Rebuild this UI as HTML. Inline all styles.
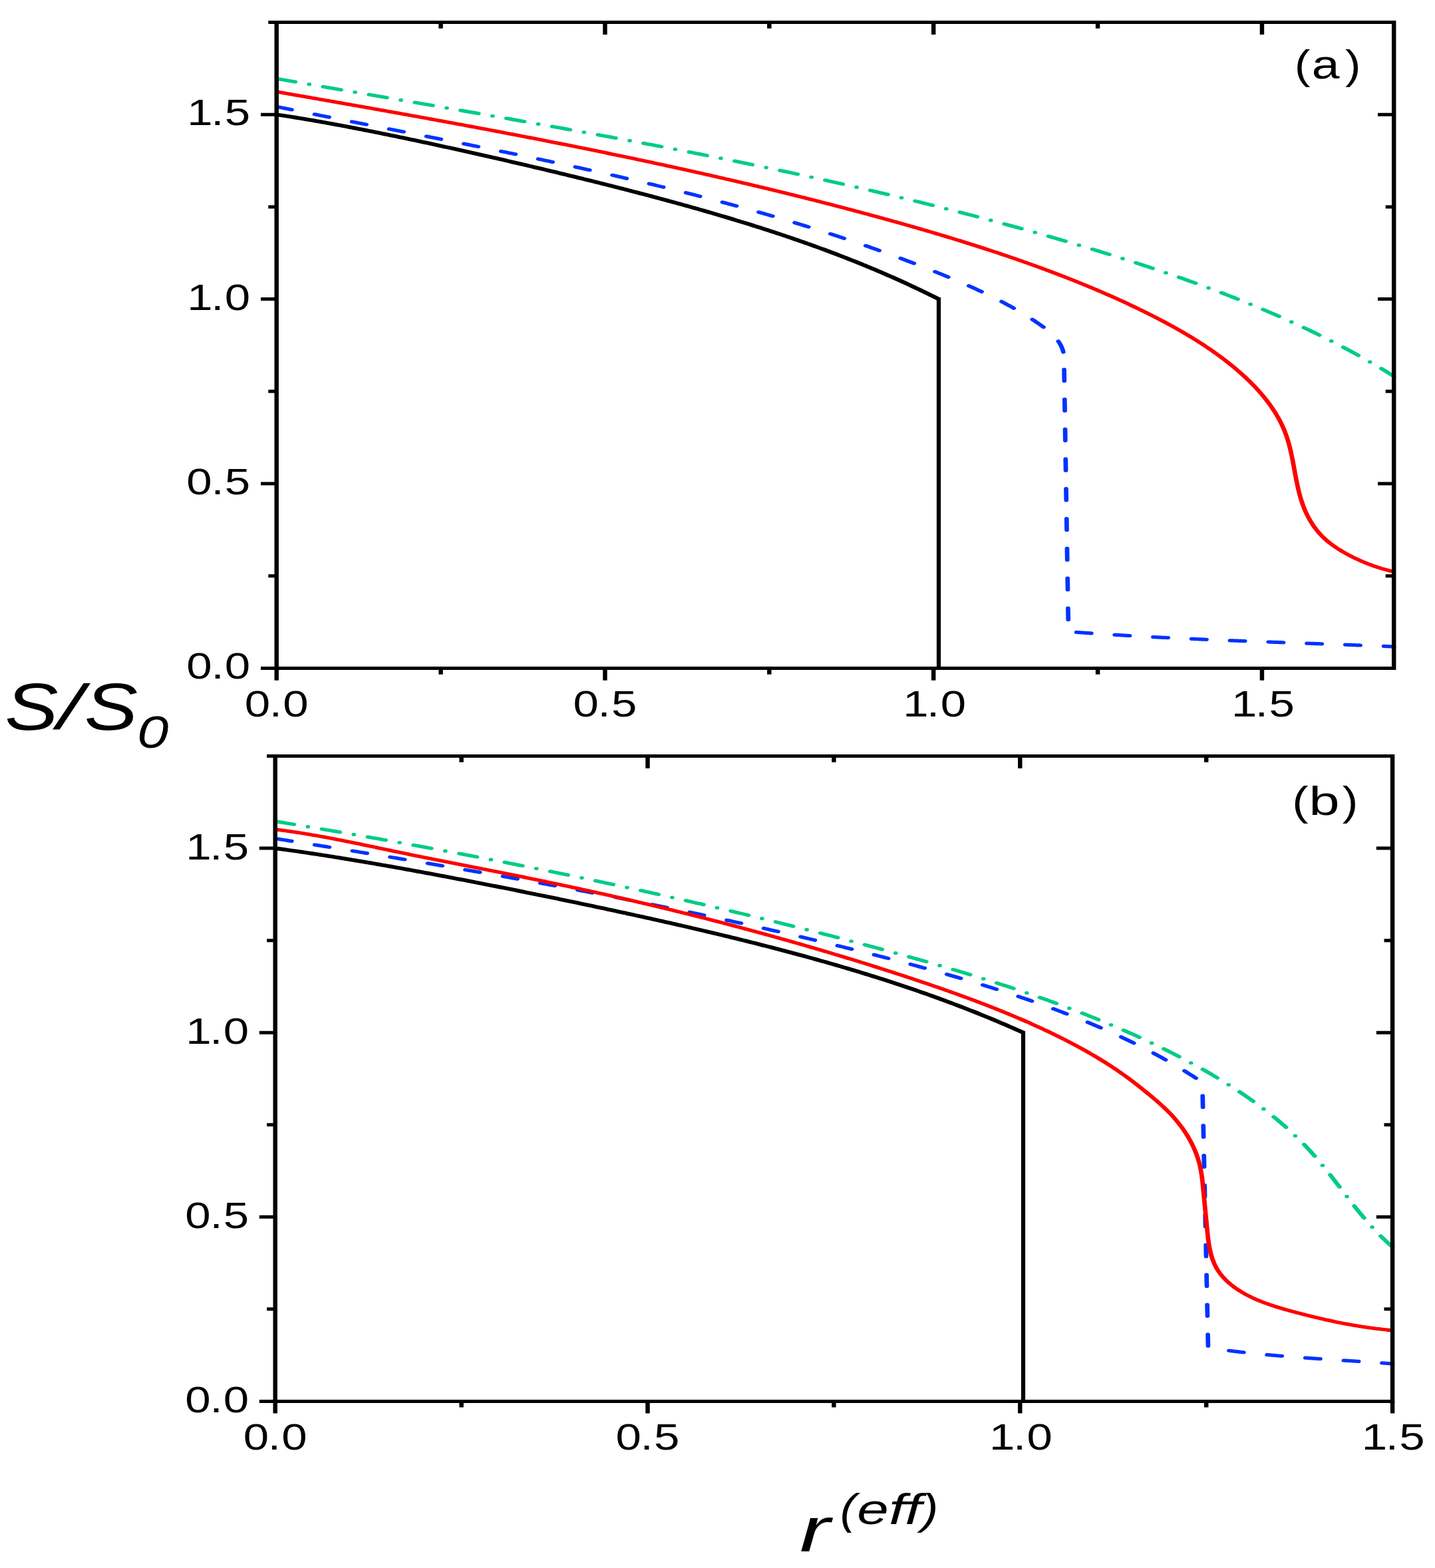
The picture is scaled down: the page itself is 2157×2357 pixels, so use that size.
<!DOCTYPE html><html><head><meta charset="utf-8"><title>S/S0 vs r(eff)</title><style>html,body{margin:0;padding:0;background:#fff;overflow:hidden}svg{display:block}text{font-family:"Liberation Sans",Arial,sans-serif;fill:#000}</style></head><body>
<svg width="2157" height="2357" viewBox="0 0 2157 2357">
<rect width="2157" height="2357" fill="#fff"/>
<g transform="scale(1.29,1)">
<path d="M322.25 172.18L324.83 172.68L327.41 173.19L329.99 173.71L332.57 174.23L335.15 174.75L337.73 175.28L340.31 175.81L342.89 176.35L345.47 176.9L348.05 177.44L350.63 177.99L353.21 178.55L355.79 179.11L358.37 179.68L360.95 180.24L363.54 180.82L366.12 181.39L368.7 181.97L371.28 182.56L373.86 183.15L376.44 183.74L379.02 184.34L381.6 184.93L384.18 185.54L386.76 186.14L389.34 186.75L391.92 187.37L394.5 187.98L397.08 188.6L399.66 189.23L402.24 189.85L404.82 190.48L407.4 191.12L409.98 191.75L412.56 192.39L415.14 193.03L417.72 193.68L420.3 194.32L422.89 194.97L425.47 195.63L428.05 196.28L430.63 196.94L433.21 197.6L435.79 198.26L438.37 198.93L440.95 199.6L443.53 200.27L446.11 200.94L448.69 201.62L451.27 202.3L453.85 202.98L456.43 203.66L459.01 204.34L461.59 205.03L464.17 205.72L466.75 206.41L469.33 207.1L471.91 207.8L474.49 208.5L477.07 209.2L479.65 209.9L482.24 210.6L484.82 211.31L487.4 212.01L489.98 212.72L492.56 213.43L495.14 214.15L497.72 214.86L500.3 215.58L502.88 216.29L505.46 217.01L508.04 217.74L510.62 218.46L513.2 219.18L515.78 219.91L518.36 220.64L520.94 221.37L523.52 222.1L526.1 222.83L528.68 223.56L531.26 224.3L533.84 225.04L536.42 225.78L539 226.52L541.59 227.26L544.17 228L546.75 228.74L549.33 229.49L551.91 230.24L554.49 230.99L557.07 231.74L559.65 232.49L562.23 233.24L564.81 234L567.39 234.75L569.97 235.51L572.55 236.27L575.13 237.03L577.71 237.79L580.29 238.55L582.87 239.31L585.45 240.08L588.03 240.84L590.61 241.61L593.19 242.38L595.77 243.15L598.35 243.92L600.94 244.7L603.52 245.47L606.1 246.25L608.68 247.02L611.26 247.8L613.84 248.58L616.42 249.36L619 250.14L621.58 250.93L624.16 251.71L626.74 252.5L629.32 253.29L631.9 254.08L634.48 254.87L637.06 255.66L639.64 256.45L642.22 257.25L644.8 258.04L647.38 258.84L649.96 259.64L652.54 260.44L655.12 261.25L657.7 262.05L660.29 262.85L662.87 263.66L665.45 264.47L668.03 265.28L670.61 266.09L673.19 266.91L675.77 267.72L678.35 268.54L680.93 269.36L683.51 270.18L686.09 271L688.67 271.82L691.25 272.65L693.83 273.47L696.41 274.3L698.99 275.13L701.57 275.96L704.15 276.8L706.73 277.64L709.31 278.47L711.89 279.31L714.47 280.16L717.05 281L719.64 281.85L722.22 282.69L724.8 283.54L727.38 284.4L729.96 285.25L732.54 286.11L735.12 286.97L737.7 287.83L740.28 288.69L742.86 289.56L745.44 290.43L748.02 291.3L750.6 292.17L753.18 293.05L755.76 293.92L758.34 294.8L760.92 295.69L763.5 296.57L766.08 297.46L768.66 298.35L771.24 299.25L773.82 300.14L776.4 301.04L778.99 301.94L781.57 302.85L784.15 303.75L786.73 304.67L789.31 305.58L791.89 306.5L794.47 307.42L797.05 308.34L799.63 309.26L802.21 310.19L804.79 311.13L807.37 312.06L809.95 313L812.53 313.94L815.11 314.89L817.69 315.84L820.27 316.79L822.85 317.75L825.43 318.71L828.01 319.67L830.59 320.64L833.17 321.61L835.75 322.58L838.34 323.56L840.92 324.55L843.5 325.53L846.08 326.52L848.66 327.52L851.24 328.52L853.82 329.52L856.4 330.53L858.98 331.54L861.56 332.55L864.14 333.57L866.72 334.6L869.3 335.63L871.88 336.66L874.46 337.7L877.04 338.74L879.62 339.79L882.2 340.84L884.78 341.9L887.36 342.96L889.94 344.03L892.52 345.1L895.1 346.18L897.69 347.26L900.27 348.35L902.85 349.44L905.43 350.54L908.01 351.64L910.59 352.75L913.17 353.87L915.75 354.99L918.33 356.11L920.91 357.24L923.49 358.38L926.07 359.52L928.65 360.67L931.23 361.82L933.81 362.99L936.39 364.15L938.97 365.32L941.55 366.5L944.13 367.69L946.71 368.88L949.29 370.08L951.87 371.28L954.45 372.49L957.04 373.71L959.62 374.94L962.2 376.17L964.78 377.4L967.36 378.65L969.94 379.9L972.52 381.16L975.1 382.42L977.68 383.7L980.26 384.98L982.84 386.27L985.42 387.56L988 388.86L990.58 390.17L993.16 391.49L995.74 392.81L998.32 394.15L1000.9 395.49L1003.48 396.84L1006.06 398.19L1008.64 399.56L1011.22 400.93L1013.8 402.31L1016.39 403.7L1018.97 405.1L1021.55 406.5L1024.13 407.92L1026.71 409.34L1029.29 410.77L1031.87 412.21L1034.45 413.66L1037.03 415.12L1039.61 416.59L1042.19 418.06L1044.77 419.55L1047.35 421.04L1049.93 422.54L1052.51 424.06L1055.09 425.58L1057.67 427.11L1060.25 428.65L1062.83 430.2L1065.41 431.76L1067.99 433.33L1070.57 434.92L1073.15 436.51L1075.74 438.11L1078.32 439.72L1080.9 441.34L1083.48 442.97L1086.06 444.61L1088.64 446.26L1091.22 447.93L1093.8 449.6" fill="none" stroke="#000000" stroke-width="5.7" stroke-linejoin="round" stroke-linecap="butt"/>
<path d="M1093.8 447.1L1093.8 1004.5" fill="none" stroke="#000000" stroke-width="4.8" stroke-linejoin="round" stroke-linecap="butt"/>
<path d="M322.25 160.3L324.7 160.94L327.14 161.58L329.59 162.22L332.04 162.86L334.49 163.5L336.94 164.14L339.39 164.78L341.84 165.42L344.3 166.05L346.75 166.69L349.2 167.33L351.66 167.96L354.11 168.6L356.56 169.23L359.02 169.86L361.47 170.5L363.93 171.13L366.39 171.76L368.84 172.39L371.3 173.02L373.76 173.65L376.22 174.28L378.68 174.91L381.13 175.54L383.59 176.17L386.05 176.8L388.51 177.43L390.97 178.06L393.43 178.69L395.9 179.31L398.36 179.94L400.82 180.57L403.28 181.2L405.74 181.82L408.21 182.45L410.67 183.07L413.13 183.7L415.6 184.33L418.06 184.95L420.53 185.58L422.99 186.2L425.46 186.83L427.92 187.45L430.39 188.08L432.85 188.7L435.32 189.33L437.79 189.95L440.25 190.58L442.72 191.2L445.19 191.83L447.65 192.45L450.12 193.08L452.59 193.7L455.06 194.33L457.52 194.95L459.99 195.58L462.46 196.2L464.93 196.83L467.4 197.45L469.87 198.08L472.34 198.71L474.81 199.33L477.27 199.96L479.74 200.58L482.21 201.21L484.68 201.84L487.15 202.47L489.62 203.09L492.09 203.72L494.56 204.35L497.03 204.98L499.5 205.61L501.97 206.24L504.44 206.87L506.91 207.5L509.38 208.13L511.85 208.76L514.32 209.39L516.79 210.02L519.26 210.65L521.74 211.29L524.21 211.92L526.68 212.55L529.15 213.19L531.62 213.82L534.09 214.46L536.56 215.09L539.03 215.73L541.5 216.37L543.97 217.01L546.44 217.64L548.91 218.28L551.38 218.92L553.85 219.56L556.32 220.2L558.78 220.85L561.25 221.49L563.72 222.13L566.19 222.78L568.66 223.42L571.13 224.07L573.6 224.71L576.07 225.36L578.53 226.01L581 226.66L583.47 227.31L585.94 227.96L588.41 228.61L590.87 229.26L593.34 229.92L595.81 230.57L598.27 231.23L600.74 231.88L603.21 232.54L605.67 233.2L608.14 233.86L610.6 234.52L613.07 235.18L615.53 235.84L618 236.5L620.46 237.17L622.93 237.83L625.39 238.5L627.85 239.17L630.32 239.84L632.78 240.51L635.24 241.18L637.7 241.85L640.16 242.53L642.63 243.2L645.09 243.88L647.55 244.56L650.01 245.23L652.47 245.91L654.93 246.6L657.39 247.28L659.84 247.96L662.3 248.65L664.76 249.33L667.22 250.02L669.67 250.71L672.13 251.4L674.59 252.1L677.04 252.79L679.5 253.48L681.95 254.18L684.41 254.88L686.86 255.58L689.31 256.28L691.76 256.98L694.22 257.69L696.67 258.39L699.12 259.1L701.57 259.81L704.02 260.52L706.47 261.23L708.92 261.95L711.37 262.66L713.81 263.38L716.26 264.1L718.71 264.82L721.15 265.54L723.6 266.27L726.04 266.99L728.49 267.72L730.93 268.45L733.37 269.18L735.82 269.91L738.26 270.65L740.7 271.38L743.14 272.12L745.58 272.86L748.02 273.61L750.46 274.35L752.89 275.1L755.33 275.84L757.77 276.59L760.2 277.35L762.64 278.1L765.07 278.86L767.5 279.61L769.94 280.37L772.37 281.13L774.8 281.9L777.23 282.66L779.66 283.43L782.09 284.2L784.52 284.98L786.94 285.75L789.37 286.53L791.8 287.3L794.22 288.09L796.65 288.87L799.07 289.65L801.49 290.44L803.91 291.23L806.33 292.02L808.75 292.82L811.17 293.61L813.59 294.41L816.01 295.21L818.42 296.02L820.84 296.82L823.25 297.63L825.67 298.44L828.08 299.25L830.49 300.07L832.9 300.89L835.31 301.71L837.72 302.53L840.13 303.35L842.54 304.18L844.94 305.01L847.35 305.84L849.75 306.68L852.16 307.52L854.56 308.36L856.96 309.2L859.36 310.04L861.76 310.89L864.16 311.74L866.56 312.59L868.95 313.45L871.35 314.31L873.74 315.17L876.13 316.03L878.53 316.9L880.92 317.77L883.31 318.64L885.7 319.52L888.08 320.39L890.47 321.27L892.86 322.16L895.24 323.04L897.62 323.93L900 324.82L902.39 325.71L904.77 326.61L907.14 327.51L909.52 328.41L911.9 329.32L914.27 330.23L916.65 331.14L919.02 332.06L921.39 332.97L923.76 333.89L926.13 334.82L928.5 335.74L930.87 336.67L933.23 337.61L935.6 338.54L937.96 339.48L940.32 340.42L942.68 341.37L945.04 342.32L947.4 343.27L949.76 344.22L952.11 345.18L954.47 346.14L956.82 347.1L959.17 348.07L961.52 349.04L963.87 350.02L966.22 350.99L968.56 351.97L970.91 352.96L973.25 353.94L975.59 354.93L977.93 355.93L980.27 356.92L982.61 357.92L984.95 358.93L987.28 359.93L989.62 360.94L991.95 361.96L994.28 362.98L996.61 364L998.94 365.02L1001.27 366.05L1003.59 367.08L1005.91 368.11L1008.24 369.15L1010.56 370.19L1012.88 371.24L1015.2 372.29L1017.51 373.34L1019.83 374.4L1022.14 375.46L1024.45 376.52L1026.76 377.59L1029.07 378.66L1031.38 379.73L1033.68 380.81L1035.99 381.89L1038.29 382.98L1040.59 384.07L1042.89 385.16L1045.19 386.26L1047.49 387.36L1049.78 388.46L1052.07 389.57L1054.37 390.68L1056.66 391.8L1058.94 392.92L1061.23 394.04L1063.52 395.17L1065.8 396.3L1068.08 397.44L1070.36 398.58L1072.64 399.72L1074.92 400.87L1077.19 402.02L1079.47 403.18L1081.74 404.34L1084.01 405.5L1086.28 406.67L1088.54 407.84L1090.81 409.02L1093.07 410.2L1095.33 411.38L1097.59 412.57L1099.85 413.76L1102.11 414.96L1104.36 416.16L1106.61 417.36L1108.86 418.58L1111.11 419.79L1113.35 421.01L1115.59 422.24L1117.83 423.48L1120.06 424.72L1122.29 425.96L1124.51 427.21L1126.74 428.47L1128.95 429.74L1131.17 431.01L1133.38 432.29L1135.58 433.58L1137.78 434.88L1139.97 436.18L1142.16 437.49L1144.35 438.81L1146.53 440.14L1148.7 441.48L1150.86 442.82L1153.03 444.18L1155.18 445.54L1157.33 446.92L1159.47 448.3L1161.6 449.69L1163.73 451.1L1165.85 452.51L1167.96 453.93L1170.07 455.37L1172.17 456.81L1174.26 458.27L1176.34 459.74L1178.41 461.22L1180.48 462.71L1182.54 464.21L1184.59 465.73L1186.63 467.26L1188.66 468.8L1190.68 470.35L1192.69 471.92L1194.69 473.5L1196.68 475.09L1198.67 476.69L1200.64 478.31L1202.6 479.95L1204.55 481.59L1206.49 483.26L1208.42 484.93L1210.34 486.62L1212.24 488.33L1214.12 490.06L1215.98 491.81L1217.8 493.58L1219.59 495.38L1221.33 497.2L1223.03 499.06L1224.68 500.94L1226.27 502.87L1227.8 504.82L1229.26 506.82L1230.64 508.85L1231.95 510.93L1233.18 513.06L1234.32 515.23L1235.37 517.45L1236.32 519.72L1237.16 522.04L1237.9 524.43L1238.53 526.86L1239.03 529.36L1239.42 531.92L1239.67 534.55L1239.79 537.24L1239.78 540" fill="none" stroke="#0033ff" stroke-width="5.2" stroke-linejoin="round" stroke-dasharray="17.3 27.55" stroke-linecap="round" stroke-dashoffset="-1"/>
<path d="M1239.77 540L1244.96 949.5L1245.91 949.59L1246.86 949.68L1247.81 949.77L1248.75 949.86L1249.7 949.95L1250.65 950.04L1251.6 950.13L1252.55 950.22L1253.5 950.31L1254.44 950.4L1255.39 950.49L1256.34 950.58L1257.29 950.67L1258.24 950.76L1259.19 950.85L1260.13 950.93L1261.08 951.02L1262.03 951.11L1262.98 951.19L1263.93 951.28L1264.88 951.37L1265.83 951.45L1266.77 951.54L1267.72 951.62L1268.67 951.71L1269.62 951.79L1270.57 951.88L1271.52 951.96L1272.47 952.04L1273.42 952.13L1274.36 952.21L1275.31 952.29L1276.26 952.38L1277.21 952.46L1278.16 952.54L1279.11 952.62L1280.06 952.7L1281.01 952.78L1281.96 952.86L1282.9 952.94L1283.85 953.02L1284.8 953.1L1285.75 953.18L1286.7 953.26L1287.65 953.34L1288.6 953.42L1289.55 953.5L1290.5 953.58L1291.45 953.65L1292.39 953.73L1293.34 953.81L1294.29 953.88L1295.24 953.96L1296.19 954.04L1297.14 954.11L1298.09 954.19L1299.04 954.27L1299.99 954.34L1300.94 954.42L1301.89 954.49L1302.84 954.56L1303.78 954.64L1304.73 954.71L1305.68 954.79L1306.63 954.86L1307.58 954.93L1308.53 955.01L1309.48 955.08L1310.43 955.15L1311.38 955.22L1312.33 955.3L1313.28 955.37L1314.23 955.44L1315.18 955.51L1316.13 955.58L1317.08 955.65L1318.03 955.72L1318.98 955.79L1319.93 955.86L1320.88 955.93L1321.83 956L1322.77 956.07L1323.72 956.14L1324.67 956.21L1325.62 956.28L1326.57 956.34L1327.52 956.41L1328.47 956.48L1329.42 956.55L1330.37 956.61L1331.32 956.68L1332.27 956.75L1333.22 956.81L1334.17 956.88L1335.12 956.95L1336.07 957.01L1337.02 957.08L1337.97 957.14L1338.92 957.21L1339.87 957.27L1340.82 957.34L1341.77 957.4L1342.72 957.47L1343.67 957.53L1344.62 957.6L1345.57 957.66L1346.52 957.72L1347.47 957.79L1348.42 957.85L1349.37 957.91L1350.32 957.98L1351.27 958.04L1352.22 958.1L1353.17 958.16L1354.12 958.22L1355.07 958.29L1356.02 958.35L1356.97 958.41L1357.92 958.47L1358.87 958.53L1359.82 958.59L1360.77 958.65L1361.72 958.71L1362.67 958.77L1363.62 958.83L1364.57 958.89L1365.52 958.95L1366.47 959.01L1367.42 959.07L1368.37 959.13L1369.32 959.19L1370.27 959.25L1371.22 959.3L1372.18 959.36L1373.13 959.42L1374.08 959.48L1375.03 959.54L1375.98 959.59L1376.93 959.65L1377.88 959.71L1378.83 959.76L1379.78 959.82L1380.73 959.88L1381.68 959.93L1382.63 959.99L1383.58 960.05L1384.53 960.1L1385.48 960.16L1386.43 960.21L1387.38 960.27L1388.33 960.32L1389.28 960.38L1390.23 960.44L1391.18 960.49L1392.13 960.54L1393.09 960.6L1394.04 960.65L1394.99 960.71L1395.94 960.76L1396.89 960.82L1397.84 960.87L1398.79 960.92L1399.74 960.98L1400.69 961.03L1401.64 961.08L1402.59 961.14L1403.54 961.19L1404.49 961.24L1405.44 961.29L1406.39 961.35L1407.34 961.4L1408.3 961.45L1409.25 961.5L1410.2 961.55L1411.15 961.61L1412.1 961.66L1413.05 961.71L1414 961.76L1414.95 961.81L1415.9 961.86L1416.85 961.91L1417.8 961.97L1418.75 962.02L1419.7 962.07L1420.66 962.12L1421.61 962.17L1422.56 962.22L1423.51 962.27L1424.46 962.32L1425.41 962.37L1426.36 962.42L1427.31 962.47L1428.26 962.52L1429.21 962.57L1430.16 962.62L1431.11 962.66L1432.07 962.71L1433.02 962.76L1433.97 962.81L1434.92 962.86L1435.87 962.91L1436.82 962.96L1437.77 963.01L1438.72 963.05L1439.67 963.1L1440.62 963.15L1441.58 963.2L1442.53 963.25L1443.48 963.29L1444.43 963.34L1445.38 963.39L1446.33 963.44L1447.28 963.48L1448.23 963.53L1449.18 963.58L1450.13 963.63L1451.09 963.67L1452.04 963.72L1452.99 963.77L1453.94 963.81L1454.89 963.86L1455.84 963.91L1456.79 963.96L1457.74 964L1458.69 964.05L1459.64 964.09L1460.6 964.14L1461.55 964.19L1462.5 964.23L1463.45 964.28L1464.4 964.33L1465.35 964.37L1466.3 964.42L1467.25 964.46L1468.2 964.51L1469.16 964.56L1470.11 964.6L1471.06 964.65L1472.01 964.69L1472.96 964.74L1473.91 964.78L1474.86 964.83L1475.81 964.87L1476.76 964.92L1477.72 964.96L1478.67 965.01L1479.62 965.05L1480.57 965.1L1481.52 965.14L1482.47 965.19L1483.42 965.23L1484.37 965.28L1485.32 965.32L1486.28 965.37L1487.23 965.41L1488.18 965.46L1489.13 965.5L1490.08 965.55L1491.03 965.59L1491.98 965.64L1492.93 965.68L1493.89 965.73L1494.84 965.77L1495.79 965.81L1496.74 965.86L1497.69 965.9L1498.64 965.95L1499.59 965.99L1500.54 966.04L1501.5 966.08L1502.45 966.12L1503.4 966.17L1504.35 966.21L1505.3 966.26L1506.25 966.3L1507.2 966.34L1508.15 966.39L1509.1 966.43L1510.06 966.48L1511.01 966.52L1511.96 966.57L1512.91 966.61L1513.86 966.65L1514.81 966.7L1515.76 966.74L1516.71 966.79L1517.67 966.83L1518.62 966.87L1519.57 966.92L1520.52 966.96L1521.47 967.01L1522.42 967.05L1523.37 967.09L1524.32 967.14L1525.28 967.18L1526.23 967.23L1527.18 967.27L1528.13 967.31L1529.08 967.36L1530.03 967.4L1530.98 967.45L1531.93 967.49L1532.89 967.53L1533.84 967.58L1534.79 967.62L1535.74 967.67L1536.69 967.71L1537.64 967.75L1538.59 967.8L1539.54 967.84L1540.49 967.89L1541.45 967.93L1542.4 967.97L1543.35 968.02L1544.3 968.06L1545.25 968.11L1546.2 968.15L1547.15 968.2L1548.1 968.24L1549.06 968.29L1550.01 968.33L1550.96 968.37L1551.91 968.42L1552.86 968.46L1553.81 968.51L1554.76 968.55L1555.71 968.6L1556.66 968.64L1557.62 968.69L1558.57 968.73L1559.52 968.78L1560.47 968.82L1561.42 968.87L1562.37 968.91L1563.32 968.96L1564.27 969L1565.23 969.05L1566.18 969.09L1567.13 969.14L1568.08 969.18L1569.03 969.23L1569.98 969.27L1570.93 969.32L1571.88 969.36L1572.83 969.41L1573.79 969.46L1574.74 969.5L1575.69 969.55L1576.64 969.59L1577.59 969.64L1578.54 969.69L1579.49 969.73L1580.44 969.78L1581.39 969.82L1582.35 969.87L1583.3 969.92L1584.25 969.96L1585.2 970.01L1586.15 970.06L1587.1 970.1L1588.05 970.15L1589 970.2L1589.95 970.24L1590.9 970.29L1591.86 970.34L1592.81 970.38L1593.76 970.43L1594.71 970.48L1595.66 970.53L1596.61 970.57L1597.56 970.62L1598.51 970.67L1599.46 970.72L1600.41 970.77L1601.37 970.81L1602.32 970.86L1603.27 970.91L1604.22 970.96L1605.17 971.01L1606.12 971.05L1607.07 971.1L1608.02 971.15L1608.97 971.2L1609.92 971.25L1610.87 971.3L1611.83 971.35L1612.78 971.4L1613.73 971.45L1614.68 971.5L1615.63 971.55L1616.58 971.6L1617.53 971.65L1618.48 971.7L1619.43 971.75L1620.38 971.8L1621.33 971.85L1622.28 971.9L1623.24 971.95L1624.19 972" fill="none" stroke="#0033ff" stroke-width="5.2" stroke-linejoin="round" stroke-dasharray="17.3 27.55" stroke-linecap="round" stroke-dashoffset="-15.3"/>
<path d="M322.25 137.9L324.18 138.33L326.11 138.76L328.04 139.19L329.96 139.63L331.89 140.06L333.82 140.49L335.75 140.92L337.68 141.36L339.61 141.79L341.54 142.22L343.47 142.66L345.39 143.09L347.32 143.52L349.25 143.96L351.18 144.39L353.11 144.82L355.04 145.26L356.97 145.69L358.9 146.13L360.83 146.56L362.76 147L364.69 147.43L366.61 147.87L368.54 148.3L370.47 148.74L372.4 149.17L374.33 149.61L376.26 150.04L378.19 150.48L380.12 150.92L382.05 151.35L383.98 151.79L385.91 152.23L387.84 152.66L389.77 153.1L391.7 153.54L393.63 153.98L395.56 154.41L397.49 154.85L399.42 155.29L401.35 155.73L403.28 156.17L405.21 156.61L407.14 157.05L409.07 157.48L410.99 157.92L412.92 158.36L414.85 158.8L416.78 159.24L418.71 159.69L420.64 160.13L422.57 160.57L424.5 161.01L426.43 161.45L428.36 161.89L430.29 162.33L432.22 162.78L434.15 163.22L436.08 163.66L438.01 164.11L439.94 164.55L441.87 164.99L443.8 165.44L445.73 165.88L447.66 166.33L449.59 166.77L451.52 167.22L453.44 167.66L455.37 168.11L457.3 168.55L459.23 169L461.16 169.45L463.09 169.89L465.02 170.34L466.95 170.79L468.88 171.24L470.81 171.68L472.74 172.13L474.67 172.58L476.59 173.03L478.52 173.48L480.45 173.93L482.38 174.38L484.31 174.83L486.24 175.28L488.17 175.73L490.1 176.18L492.02 176.64L493.95 177.09L495.88 177.54L497.81 177.99L499.74 178.45L501.67 178.9L503.59 179.35L505.52 179.81L507.45 180.26L509.38 180.72L511.31 181.17L513.23 181.63L515.16 182.09L517.09 182.54L519.02 183L520.95 183.46L522.87 183.92L524.8 184.37L526.73 184.83L528.66 185.29L530.58 185.75L532.51 186.21L534.44 186.67L536.36 187.13L538.29 187.59L540.22 188.05L542.15 188.52L544.07 188.98L546 189.44L547.93 189.9L549.85 190.37L551.78 190.83L553.7 191.3L555.63 191.76L557.56 192.23L559.48 192.69L561.41 193.16L563.33 193.62L565.26 194.09L567.19 194.56L569.11 195.03L571.04 195.5L572.96 195.97L574.89 196.43L576.81 196.9L578.74 197.37L580.66 197.85L582.59 198.32L584.51 198.79L586.44 199.26L588.36 199.73L590.29 200.21L592.21 200.68L594.13 201.16L596.06 201.63L597.98 202.11L599.91 202.58L601.83 203.06L603.75 203.53L605.68 204.01L607.6 204.49L609.52 204.97L611.45 205.45L613.37 205.93L615.29 206.41L617.21 206.89L619.14 207.37L621.06 207.85L622.98 208.33L624.9 208.81L626.83 209.3L628.75 209.78L630.67 210.26L632.59 210.75L634.51 211.23L636.43 211.72L638.35 212.21L640.28 212.69L642.2 213.18L644.12 213.67L646.04 214.16L647.96 214.65L649.88 215.14L651.8 215.63L653.72 216.12L655.64 216.61L657.56 217.1L659.48 217.6L661.4 218.09L663.32 218.58L665.23 219.08L667.15 219.57L669.07 220.07L670.99 220.56L672.91 221.06L674.83 221.56L676.75 222.06L678.66 222.56L680.58 223.06L682.5 223.56L684.42 224.06L686.33 224.56L688.25 225.06L690.17 225.56L692.08 226.07L694 226.57L695.92 227.07L697.83 227.58L699.75 228.09L701.66 228.59L703.58 229.1L705.49 229.61L707.41 230.11L709.32 230.62L711.24 231.13L713.15 231.64L715.07 232.16L716.98 232.67L718.9 233.18L720.81 233.69L722.72 234.21L724.64 234.72L726.55 235.24L728.46 235.75L730.38 236.27L732.29 236.79L734.2 237.3L736.11 237.82L738.03 238.34L739.94 238.86L741.85 239.38L743.76 239.9L745.67 240.43L747.58 240.95L749.49 241.47L751.4 242L753.32 242.52L755.23 243.05L757.14 243.57L759.04 244.1L760.95 244.63L762.86 245.16L764.77 245.69L766.68 246.22L768.59 246.75L770.5 247.28L772.41 247.81L774.31 248.35L776.22 248.88L778.13 249.42L780.04 249.95L781.94 250.49L783.85 251.02L785.76 251.56L787.66 252.1L789.57 252.64L791.47 253.18L793.38 253.72L795.29 254.26L797.19 254.81L799.1 255.35L801 255.89L802.9 256.44L804.81 256.98L806.71 257.53L808.62 258.08L810.52 258.63L812.42 259.17L814.32 259.72L816.23 260.28L818.13 260.83L820.03 261.38L821.93 261.93L823.83 262.49L825.74 263.04L827.64 263.6L829.54 264.15L831.44 264.71L833.34 265.27L835.24 265.83L837.14 266.39L839.04 266.95L840.94 267.51L842.83 268.07L844.73 268.63L846.63 269.2L848.53 269.76L850.43 270.33L852.32 270.9L854.22 271.46L856.12 272.03L858.02 272.6L859.91 273.17L861.81 273.74L863.7 274.31L865.6 274.89L867.49 275.46L869.39 276.04L871.28 276.61L873.18 277.19L875.07 277.76L876.97 278.34L878.86 278.92L880.75 279.5L882.64 280.08L884.54 280.66L886.43 281.25L888.32 281.83L890.21 282.42L892.1 283L893.99 283.59L895.89 284.18L897.78 284.76L899.67 285.35L901.56 285.94L903.44 286.53L905.33 287.13L907.22 287.72L909.11 288.31L911 288.91L912.89 289.5L914.77 290.1L916.66 290.7L918.55 291.3L920.44 291.9L922.32 292.5L924.21 293.1L926.09 293.7L927.98 294.31L929.86 294.91L931.75 295.52L933.63 296.12L935.52 296.73L937.4 297.34L939.28 297.95L941.17 298.56L943.05 299.17L944.93 299.79L946.81 300.4L948.69 301.01L950.58 301.63L952.46 302.25L954.34 302.86L956.22 303.48L958.1 304.1L959.98 304.72L961.86 305.35L963.73 305.97L965.61 306.59L967.49 307.22L969.37 307.84L971.25 308.47L973.12 309.1L975 309.73L976.88 310.36L978.75 310.99L980.63 311.62L982.5 312.26L984.38 312.89L986.25 313.53L988.13 314.16L990 314.8L991.87 315.44L993.75 316.08L995.62 316.72L997.49 317.36L999.36 318.01L1001.23 318.65L1003.11 319.3L1004.98 319.94L1006.85 320.59L1008.72 321.24L1010.59 321.89L1012.46 322.54L1014.32 323.19L1016.19 323.84L1018.06 324.5L1019.93 325.15L1021.8 325.81L1023.66 326.47L1025.53 327.13L1027.4 327.78L1029.26 328.45L1031.13 329.11L1032.99 329.77L1034.86 330.44L1036.72 331.1L1038.58 331.77L1040.45 332.44L1042.31 333.11L1044.17 333.78L1046.03 334.45L1047.89 335.12L1049.76 335.8L1051.62 336.47L1053.48 337.15L1055.34 337.83L1057.19 338.51L1059.05 339.19L1060.91 339.87L1062.77 340.56L1064.62 341.24L1066.48 341.93L1068.34 342.62L1070.19 343.31L1072.05 344L1073.9 344.69L1075.75 345.38L1077.61 346.08L1079.46 346.78L1081.31 347.48L1083.16 348.18L1085.01 348.88L1086.86 349.58L1088.71 350.29L1090.56 350.99L1092.41 351.7L1094.26 352.41L1096.1 353.12L1097.95 353.84L1099.8 354.55L1101.64 355.27L1103.49 355.99L1105.33 356.71L1107.17 357.43L1109.02 358.15L1110.86 358.88L1112.7 359.6L1114.54 360.33L1116.38 361.06L1118.22 361.79L1120.06 362.53L1121.89 363.26L1123.73 364L1125.57 364.74L1127.4 365.48L1129.24 366.23L1131.07 366.97L1132.9 367.72L1134.73 368.47L1136.57 369.22L1138.4 369.97L1140.23 370.73L1142.06 371.48L1143.88 372.24L1145.71 373L1147.54 373.77L1149.37 374.53L1151.19 375.3L1153.01 376.07L1154.84 376.84L1156.66 377.61L1158.48 378.39L1160.3 379.17L1162.12 379.95L1163.94 380.73L1165.76 381.51L1167.58 382.3L1169.4 383.09L1171.21 383.88L1173.03 384.67L1174.84 385.46L1176.65 386.26L1178.47 387.06L1180.28 387.86L1182.09 388.67L1183.9 389.47L1185.7 390.28L1187.51 391.09L1189.32 391.91L1191.12 392.72L1192.93 393.54L1194.73 394.36L1196.53 395.18L1198.34 396.01L1200.14 396.84L1201.93 397.67L1203.73 398.5L1205.53 399.33L1207.33 400.17L1209.12 401.01L1210.91 401.85L1212.71 402.7L1214.5 403.55L1216.29 404.4L1218.08 405.25L1219.86 406.1L1221.65 406.96L1223.44 407.82L1225.22 408.69L1227 409.55L1228.78 410.42L1230.56 411.29L1232.34 412.17L1234.12 413.04L1235.89 413.92L1237.67 414.81L1239.44 415.69L1241.21 416.58L1242.98 417.47L1244.75 418.36L1246.52 419.26L1248.28 420.16L1250.04 421.06L1251.81 421.97L1253.57 422.87L1255.33 423.79L1257.08 424.7L1258.84 425.62L1260.59 426.54L1262.35 427.46L1264.1 428.38L1265.85 429.31L1267.6 430.24L1269.34 431.18L1271.09 432.12L1272.83 433.06L1274.57 434L1276.31 434.95L1278.05 435.9L1279.78 436.85L1281.52 437.81L1283.25 438.77L1284.98 439.73L1286.71 440.7L1288.43 441.67L1290.16 442.64L1291.88 443.62L1293.6 444.6L1295.32 445.58L1297.03 446.56L1298.75 447.55L1300.46 448.54L1302.17 449.54L1303.88 450.54L1305.59 451.54L1307.29 452.55L1308.99 453.56L1310.69 454.57L1312.39 455.58L1314.09 456.6L1315.78 457.63L1317.47 458.65L1319.16 459.68L1320.85 460.72L1322.54 461.75L1324.22 462.79L1325.9 463.84L1327.58 464.89L1329.26 465.94L1330.93 466.99L1332.6 468.05L1334.27 469.11L1335.94 470.18L1337.6 471.25L1339.27 472.32L1340.93 473.4L1342.58 474.48L1344.24 475.56L1345.89 476.65L1347.54 477.75L1349.19 478.84L1350.83 479.94L1352.47 481.05L1354.11 482.16L1355.74 483.27L1357.37 484.39L1359 485.51L1360.63 486.64L1362.25 487.78L1363.87 488.91L1365.48 490.05L1367.09 491.2L1368.7 492.35L1370.3 493.51L1371.9 494.67L1373.5 495.84L1375.09 497.01L1376.68 498.19L1378.26 499.37L1379.84 500.56L1381.42 501.75L1382.99 502.95L1384.56 504.16L1386.12 505.37L1387.68 506.58L1389.23 507.81L1390.78 509.03L1392.33 510.27L1393.87 511.51L1395.4 512.75L1396.93 514.01L1398.46 515.26L1399.98 516.53L1401.5 517.8L1403.01 519.08L1404.51 520.36L1406.01 521.65L1407.51 522.95L1409 524.25L1410.48 525.56L1411.96 526.88L1413.43 528.2L1414.9 529.53L1416.36 530.87L1417.81 532.21L1419.26 533.57L1420.71 534.93L1422.15 536.29L1423.58 537.67L1425 539.05L1426.42 540.44L1427.84 541.83L1429.24 543.24L1430.64 544.65L1432.04 546.07L1433.42 547.49L1434.8 548.93L1436.18 550.37L1437.54 551.82L1438.9 553.28L1440.25 554.74L1441.59 556.21L1442.93 557.69L1444.25 559.18L1445.57 560.68L1446.87 562.18L1448.17 563.69L1449.46 565.21L1450.74 566.73L1452.01 568.26L1453.27 569.8L1454.52 571.35L1455.76 572.91L1456.99 574.47L1458.21 576.04L1459.42 577.62L1460.62 579.2L1461.8 580.79L1462.98 582.39L1464.14 584L1465.29 585.62L1466.43 587.24L1467.55 588.87L1468.67 590.5L1469.77 592.15L1470.85 593.8L1471.93 595.46L1472.99 597.13L1474.04 598.8L1475.07 600.48L1476.09 602.17L1477.1 603.86L1478.09 605.57L1479.07 607.28L1480.03 608.99L1480.98 610.72L1481.91 612.45L1482.83 614.19L1483.73 615.94L1484.61 617.69L1485.48 619.45L1486.33 621.22L1487.17 622.99L1487.99 624.78L1488.79 626.57L1489.58 628.36L1490.35 630.17L1491.1 631.98L1491.84 633.79L1492.55 635.62L1493.25 637.45L1493.93 639.29L1494.59 641.14L1495.23 642.99L1495.86 644.85L1496.46 646.72L1497.05 648.6L1497.62 650.48L1498.16 652.37L1498.69 654.26L1499.2 656.17L1499.69 658.07L1500.17 659.99L1500.63 661.91L1501.08 663.83L1501.51 665.77L1501.92 667.7L1502.33 669.64L1502.72 671.59L1503.1 673.54L1503.46 675.49L1503.82 677.45L1504.17 679.41L1504.51 681.37L1504.84 683.34L1505.16 685.31L1505.48 687.29L1505.78 689.26L1506.09 691.24L1506.39 693.22L1506.68 695.2L1506.97 697.18L1507.26 699.17L1507.54 701.15L1507.82 703.14L1508.11 705.12L1508.39 707.11L1508.67 709.1L1508.95 711.08L1509.24 713.07L1509.53 715.05L1509.82 717.04L1510.11 719.02L1510.41 721L1510.72 722.98L1511.03 724.96L1511.35 726.93L1511.67 728.9L1512 730.87L1512.34 732.84L1512.7 734.81L1513.06 736.77L1513.43 738.72L1513.81 740.68L1514.2 742.63L1514.61 744.57L1515.03 746.51L1515.47 748.45L1515.92 750.38L1516.38 752.3L1516.86 754.22L1517.36 756.13L1517.88 758.04L1518.41 759.94L1518.96 761.84L1519.54 763.72L1520.13 765.6L1520.74 767.48L1521.38 769.34L1522.04 771.2L1522.71 773.05L1523.42 774.89L1524.14 776.72L1524.89 778.54L1525.66 780.34L1526.46 782.14L1527.28 783.92L1528.12 785.69L1528.99 787.45L1529.89 789.19L1530.81 790.92L1531.75 792.63L1532.73 794.32L1533.73 796L1534.76 797.66L1535.81 799.31L1536.9 800.93L1538.01 802.54L1539.15 804.13L1540.32 805.69L1541.52 807.24L1542.75 808.76L1544.01 810.26L1545.3 811.74L1546.61 813.2L1547.96 814.64L1549.33 816.05L1550.73 817.45L1552.16 818.82L1553.6 820.17L1555.07 821.5L1556.56 822.82L1558.08 824.11L1559.61 825.38L1561.16 826.64L1562.72 827.88L1564.31 829.09L1565.91 830.3L1567.52 831.48L1569.14 832.64L1570.78 833.79L1572.43 834.93L1574.1 836.04L1575.77 837.14L1577.46 838.21L1579.15 839.27L1580.86 840.32L1582.58 841.34L1584.31 842.34L1586.04 843.33L1587.79 844.3L1589.55 845.25L1591.31 846.17L1593.08 847.08L1594.87 847.97L1596.65 848.84L1598.45 849.69L1600.25 850.52L1602.06 851.33L1603.88 852.12L1605.7 852.89L1607.53 853.64L1609.36 854.37L1611.2 855.07L1613.04 855.76L1614.89 856.42L1616.74 857.06L1618.6 857.68L1620.46 858.28L1622.32 858.85L1624.18 859.4" fill="none" stroke="#ff0000" stroke-width="5.2" stroke-linejoin="round" stroke-linecap="butt"/>
<path d="M322.25 118.2L324.5 118.7L326.74 119.21L328.99 119.71L331.24 120.21L333.49 120.72L335.74 121.22L337.98 121.73L340.23 122.23L342.48 122.73L344.73 123.24L346.98 123.74L349.23 124.24L351.48 124.74L353.73 125.25L355.98 125.75L358.23 126.25L360.48 126.75L362.73 127.26L364.98 127.76L367.23 128.26L369.49 128.76L371.74 129.26L373.99 129.76L376.24 130.26L378.49 130.77L380.75 131.27L383 131.77L385.25 132.27L387.5 132.77L389.76 133.27L392.01 133.77L394.26 134.27L396.52 134.77L398.77 135.27L401.02 135.77L403.28 136.27L405.53 136.77L407.79 137.27L410.04 137.77L412.3 138.27L414.55 138.77L416.81 139.27L419.06 139.77L421.32 140.27L423.57 140.77L425.83 141.27L428.09 141.77L430.34 142.27L432.6 142.77L434.85 143.27L437.11 143.77L439.37 144.27L441.62 144.77L443.88 145.27L446.14 145.77L448.39 146.27L450.65 146.77L452.91 147.27L455.17 147.77L457.42 148.27L459.68 148.77L461.94 149.27L464.2 149.77L466.45 150.27L468.71 150.77L470.97 151.27L473.23 151.77L475.49 152.28L477.75 152.78L480 153.28L482.26 153.78L484.52 154.28L486.78 154.78L489.04 155.28L491.3 155.79L493.56 156.29L495.82 156.79L498.08 157.29L500.34 157.79L502.59 158.3L504.85 158.8L507.11 159.3L509.37 159.81L511.63 160.31L513.89 160.81L516.15 161.32L518.41 161.82L520.67 162.32L522.93 162.83L525.19 163.33L527.45 163.84L529.71 164.34L531.97 164.85L534.23 165.35L536.49 165.86L538.75 166.36L541.01 166.87L543.27 167.37L545.53 167.88L547.79 168.39L550.05 168.89L552.32 169.4L554.58 169.91L556.84 170.42L559.1 170.92L561.36 171.43L563.62 171.94L565.88 172.45L568.14 172.96L570.4 173.47L572.66 173.98L574.92 174.49L577.18 175L579.44 175.51L581.7 176.02L583.96 176.53L586.22 177.04L588.48 177.56L590.75 178.07L593.01 178.58L595.27 179.09L597.53 179.61L599.79 180.12L602.05 180.64L604.31 181.15L606.57 181.67L608.83 182.18L611.09 182.7L613.35 183.21L615.61 183.73L617.87 184.25L620.13 184.76L622.39 185.28L624.65 185.8L626.91 186.32L629.17 186.84L631.43 187.36L633.69 187.88L635.95 188.4L638.21 188.92L640.47 189.44L642.73 189.96L644.99 190.48L647.25 191L649.51 191.53L651.77 192.05L654.03 192.57L656.29 193.1L658.55 193.62L660.81 194.15L663.06 194.67L665.32 195.2L667.58 195.73L669.84 196.26L672.1 196.78L674.36 197.31L676.62 197.84L678.88 198.37L681.13 198.9L683.39 199.43L685.65 199.96L687.91 200.49L690.17 201.03L692.43 201.56L694.68 202.09L696.94 202.63L699.2 203.16L701.46 203.7L703.71 204.23L705.97 204.77L708.23 205.3L710.48 205.84L712.74 206.38L715 206.92L717.25 207.46L719.51 208L721.77 208.54L724.02 209.08L726.28 209.62L728.54 210.16L730.79 210.71L733.05 211.25L735.3 211.8L737.56 212.34L739.81 212.89L742.07 213.43L744.32 213.98L746.58 214.53L748.83 215.08L751.09 215.62L753.34 216.17L755.59 216.72L757.85 217.28L760.1 217.83L762.36 218.38L764.61 218.93L766.86 219.49L769.11 220.04L771.37 220.6L773.62 221.15L775.87 221.71L778.12 222.27L780.38 222.83L782.63 223.39L784.88 223.95L787.13 224.51L789.38 225.07L791.63 225.63L793.89 226.19L796.14 226.76L798.39 227.32L800.64 227.89L802.89 228.45L805.14 229.02L807.39 229.59L809.64 230.16L811.88 230.72L814.13 231.29L816.38 231.87L818.63 232.44L820.88 233.01L823.13 233.58L825.37 234.16L827.62 234.73L829.87 235.31L832.12 235.89L834.36 236.46L836.61 237.04L838.86 237.62L841.1 238.2L843.35 238.78L845.59 239.37L847.84 239.95L850.08 240.53L852.33 241.12L854.57 241.7L856.82 242.29L859.06 242.88L861.31 243.47L863.55 244.05L865.79 244.64L868.04 245.24L870.28 245.83L872.52 246.42L874.76 247.02L877 247.61L879.25 248.21L881.49 248.8L883.73 249.4L885.97 250L888.21 250.6L890.45 251.2L892.69 251.8L894.93 252.41L897.17 253.01L899.41 253.61L901.65 254.22L903.88 254.83L906.12 255.43L908.36 256.04L910.6 256.65L912.83 257.26L915.07 257.88L917.31 258.49L919.54 259.1L921.78 259.72L924.01 260.33L926.25 260.95L928.48 261.57L930.72 262.19L932.95 262.81L935.19 263.43L937.42 264.05L939.65 264.68L941.89 265.3L944.12 265.93L946.35 266.55L948.58 267.18L950.81 267.81L953.04 268.44L955.28 269.07L957.51 269.71L959.74 270.34L961.97 270.97L964.19 271.61L966.42 272.25L968.65 272.89L970.88 273.52L973.11 274.16L975.33 274.81L977.56 275.45L979.79 276.09L982.01 276.74L984.24 277.39L986.47 278.03L988.69 278.68L990.92 279.33L993.14 279.98L995.36 280.63L997.59 281.29L999.81 281.94L1002.03 282.6L1004.25 283.26L1006.48 283.91L1008.7 284.57L1010.92 285.24L1013.14 285.9L1015.36 286.56L1017.58 287.23L1019.8 287.89L1022.02 288.56L1024.24 289.23L1026.45 289.9L1028.67 290.57L1030.89 291.24L1033.11 291.91L1035.32 292.59L1037.54 293.27L1039.75 293.94L1041.97 294.62L1044.18 295.3L1046.4 295.98L1048.61 296.67L1050.82 297.35L1053.04 298.04L1055.25 298.72L1057.46 299.41L1059.67 300.1L1061.88 300.79L1064.09 301.48L1066.3 302.18L1068.51 302.87L1070.72 303.57L1072.93 304.26L1075.14 304.96L1077.35 305.66L1079.55 306.37L1081.76 307.07L1083.97 307.77L1086.17 308.48L1088.38 309.19L1090.58 309.9L1092.79 310.61L1094.99 311.32L1097.19 312.03L1099.4 312.74L1101.6 313.46L1103.8 314.18L1106 314.9L1108.2 315.62L1110.4 316.34L1112.6 317.06L1114.8 317.79L1117 318.51L1119.2 319.24L1121.4 319.97L1123.6 320.7L1125.79 321.43L1127.99 322.17L1130.18 322.9L1132.38 323.64L1134.57 324.37L1136.77 325.11L1138.96 325.86L1141.15 326.6L1143.35 327.34L1145.54 328.09L1147.73 328.84L1149.92 329.58L1152.11 330.33L1154.3 331.09L1156.49 331.84L1158.68 332.59L1160.87 333.35L1163.05 334.11L1165.24 334.87L1167.43 335.63L1169.61 336.39L1171.8 337.16L1173.98 337.92L1176.17 338.69L1178.35 339.46L1180.53 340.23L1182.72 341L1184.9 341.78L1187.08 342.55L1189.26 343.33L1191.44 344.11L1193.62 344.89L1195.8 345.67L1197.98 346.46L1200.15 347.24L1202.33 348.03L1204.51 348.82L1206.68 349.61L1208.86 350.4L1211.03 351.19L1213.21 351.99L1215.38 352.79L1217.55 353.59L1219.73 354.39L1221.9 355.19L1224.07 355.99L1226.24 356.8L1228.41 357.61L1230.58 358.41L1232.75 359.23L1234.91 360.04L1237.08 360.85L1239.25 361.67L1241.41 362.49L1243.58 363.31L1245.74 364.13L1247.91 364.95L1250.07 365.78L1252.23 366.6L1254.4 367.43L1256.56 368.26L1258.72 369.09L1260.88 369.93L1263.04 370.76L1265.2 371.6L1267.36 372.44L1269.51 373.28L1271.67 374.12L1273.83 374.97L1275.98 375.81L1278.14 376.66L1280.29 377.51L1282.44 378.36L1284.6 379.22L1286.75 380.07L1288.9 380.93L1291.05 381.79L1293.2 382.65L1295.35 383.51L1297.5 384.38L1299.65 385.25L1301.79 386.12L1303.94 386.99L1306.08 387.86L1308.23 388.74L1310.37 389.61L1312.51 390.49L1314.66 391.37L1316.8 392.26L1318.94 393.14L1321.08 394.03L1323.21 394.92L1325.35 395.81L1327.49 396.71L1329.62 397.61L1331.76 398.51L1333.89 399.41L1336.02 400.31L1338.15 401.22L1340.28 402.13L1342.41 403.04L1344.54 403.95L1346.66 404.87L1348.79 405.79L1350.91 406.71L1353.04 407.63L1355.16 408.56L1357.28 409.49L1359.4 410.42L1361.52 411.35L1363.63 412.29L1365.75 413.23L1367.86 414.17L1369.98 415.11L1372.09 416.06L1374.2 417.01L1376.31 417.96L1378.41 418.92L1380.52 419.88L1382.63 420.84L1384.73 421.8L1386.83 422.77L1388.93 423.74L1391.03 424.71L1393.13 425.68L1395.22 426.66L1397.32 427.64L1399.41 428.63L1401.5 429.62L1403.59 430.61L1405.68 431.6L1407.77 432.59L1409.86 433.59L1411.94 434.6L1414.02 435.6L1416.1 436.61L1418.18 437.62L1420.26 438.64L1422.33 439.66L1424.41 440.68L1426.48 441.7L1428.55 442.73L1430.62 443.76L1432.69 444.79L1434.75 445.83L1436.81 446.87L1438.88 447.92L1440.94 448.97L1442.99 450.02L1445.05 451.07L1447.1 452.13L1449.16 453.19L1451.21 454.26L1453.26 455.33L1455.3 456.4L1457.35 457.47L1459.39 458.55L1461.43 459.64L1463.47 460.72L1465.5 461.81L1467.54 462.91L1469.57 464L1471.6 465.1L1473.63 466.21L1475.66 467.32L1477.68 468.43L1479.7 469.55L1481.72 470.67L1483.74 471.79L1485.76 472.92L1487.77 474.05L1489.78 475.19L1491.79 476.33L1493.8 477.47L1495.8 478.62L1497.81 479.77L1499.81 480.92L1501.8 482.08L1503.8 483.24L1505.79 484.41L1507.78 485.58L1509.77 486.76L1511.76 487.94L1513.74 489.12L1515.72 490.31L1517.7 491.5L1519.68 492.7L1521.65 493.9L1523.62 495.1L1525.59 496.31L1527.56 497.53L1529.52 498.74L1531.49 499.97L1533.45 501.19L1535.4 502.42L1537.36 503.66L1539.31 504.9L1541.26 506.14L1543.2 507.39L1545.15 508.64L1547.09 509.9L1549.03 511.16L1550.96 512.43L1552.89 513.7L1554.82 514.98L1556.75 516.26L1558.68 517.54L1560.6 518.83L1562.52 520.12L1564.43 521.42L1566.35 522.73L1568.26 524.03L1570.17 525.35L1572.07 526.67L1573.98 527.99L1575.87 529.32L1577.77 530.65L1579.66 531.98L1581.56 533.33L1583.44 534.67L1585.33 536.03L1587.21 537.38L1589.09 538.74L1590.97 540.11L1592.84 541.48L1594.71 542.86L1596.58 544.24L1598.44 545.63L1600.3 547.02L1602.16 548.42L1604.01 549.82L1605.86 551.22L1607.71 552.64L1609.56 554.05L1611.4 555.48L1613.24 556.91L1615.07 558.34L1616.91 559.78L1618.73 561.22L1620.56 562.67L1622.38 564.12L1624.2 565.58" fill="none" stroke="#00cc88" stroke-width="5.2" stroke-linejoin="round" stroke-dasharray="21.3 16.7 0 16.7" stroke-linecap="round" stroke-dashoffset="-1"/>
<path d="M320.7 1275.13L323.61 1275.63L326.53 1276.14L329.44 1276.65L332.36 1277.17L335.27 1277.69L338.19 1278.21L341.1 1278.75L344.02 1279.28L346.93 1279.82L349.85 1280.37L352.76 1280.91L355.68 1281.47L358.59 1282.03L361.51 1282.59L364.42 1283.15L367.34 1283.72L370.25 1284.3L373.17 1284.87L376.08 1285.46L379 1286.04L381.91 1286.63L384.83 1287.22L387.74 1287.82L390.65 1288.42L393.57 1289.02L396.48 1289.63L399.4 1290.24L402.31 1290.85L405.23 1291.47L408.14 1292.09L411.06 1292.71L413.97 1293.34L416.89 1293.97L419.8 1294.6L422.72 1295.23L425.63 1295.87L428.55 1296.51L431.46 1297.15L434.38 1297.8L437.29 1298.45L440.21 1299.1L443.12 1299.76L446.04 1300.41L448.95 1301.07L451.87 1301.74L454.78 1302.4L457.7 1303.07L460.61 1303.74L463.53 1304.41L466.44 1305.08L469.36 1305.76L472.27 1306.44L475.19 1307.12L478.1 1307.8L481.02 1308.49L483.93 1309.18L486.85 1309.87L489.76 1310.56L492.68 1311.25L495.59 1311.95L498.51 1312.64L501.42 1313.34L504.34 1314.04L507.25 1314.75L510.17 1315.45L513.08 1316.16L515.99 1316.87L518.91 1317.58L521.82 1318.29L524.74 1319L527.65 1319.72L530.57 1320.44L533.48 1321.16L536.4 1321.88L539.31 1322.6L542.23 1323.32L545.14 1324.05L548.06 1324.78L550.97 1325.5L553.89 1326.23L556.8 1326.97L559.72 1327.7L562.63 1328.43L565.55 1329.17L568.46 1329.91L571.38 1330.65L574.29 1331.39L577.21 1332.13L580.12 1332.87L583.04 1333.62L585.95 1334.36L588.87 1335.11L591.78 1335.86L594.7 1336.61L597.61 1337.36L600.53 1338.11L603.44 1338.87L606.36 1339.62L609.27 1340.38L612.19 1341.14L615.1 1341.9L618.02 1342.66L620.93 1343.42L623.85 1344.18L626.76 1344.95L629.68 1345.72L632.59 1346.48L635.51 1347.25L638.42 1348.02L641.33 1348.79L644.25 1349.57L647.16 1350.34L650.08 1351.12L652.99 1351.89L655.91 1352.67L658.82 1353.45L661.74 1354.23L664.65 1355.01L667.57 1355.8L670.48 1356.58L673.4 1357.37L676.31 1358.16L679.23 1358.95L682.14 1359.74L685.06 1360.53L687.97 1361.32L690.89 1362.12L693.8 1362.92L696.72 1363.71L699.63 1364.51L702.55 1365.32L705.46 1366.12L708.38 1366.92L711.29 1367.73L714.21 1368.54L717.12 1369.35L720.04 1370.16L722.95 1370.97L725.87 1371.78L728.78 1372.6L731.7 1373.42L734.61 1374.24L737.53 1375.06L740.44 1375.88L743.36 1376.71L746.27 1377.53L749.19 1378.36L752.1 1379.19L755.02 1380.02L757.93 1380.86L760.85 1381.69L763.76 1382.53L766.67 1383.37L769.59 1384.21L772.5 1385.06L775.42 1385.9L778.33 1386.75L781.25 1387.6L784.16 1388.46L787.08 1389.31L789.99 1390.17L792.91 1391.03L795.82 1391.89L798.74 1392.75L801.65 1393.62L804.57 1394.49L807.48 1395.36L810.4 1396.24L813.31 1397.11L816.23 1397.99L819.14 1398.87L822.06 1399.76L824.97 1400.65L827.89 1401.54L830.8 1402.43L833.72 1403.32L836.63 1404.22L839.55 1405.12L842.46 1406.03L845.38 1406.93L848.29 1407.84L851.21 1408.76L854.12 1409.67L857.04 1410.59L859.95 1411.52L862.87 1412.44L865.78 1413.37L868.7 1414.3L871.61 1415.24L874.53 1416.18L877.44 1417.12L880.36 1418.07L883.27 1419.02L886.19 1419.97L889.1 1420.93L892.01 1421.89L894.93 1422.85L897.84 1423.82L900.76 1424.79L903.67 1425.77L906.59 1426.75L909.5 1427.73L912.42 1428.72L915.33 1429.71L918.25 1430.71L921.16 1431.71L924.08 1432.71L926.99 1433.72L929.91 1434.74L932.82 1435.75L935.74 1436.78L938.65 1437.8L941.57 1438.84L944.48 1439.87L947.4 1440.91L950.31 1441.96L953.23 1443.01L956.14 1444.07L959.06 1445.13L961.97 1446.19L964.89 1447.26L967.8 1448.34L970.72 1449.42L973.63 1450.51L976.55 1451.6L979.46 1452.7L982.38 1453.8L985.29 1454.91L988.21 1456.02L991.12 1457.14L994.04 1458.26L996.95 1459.4L999.87 1460.53L1002.78 1461.68L1005.7 1462.82L1008.61 1463.98L1011.53 1465.14L1014.44 1466.31L1017.36 1467.48L1020.27 1468.66L1023.18 1469.85L1026.1 1471.04L1029.01 1472.24L1031.93 1473.45L1034.84 1474.66L1037.76 1475.88L1040.67 1477.1L1043.59 1478.34L1046.5 1479.58L1049.42 1480.82L1052.33 1482.08L1055.25 1483.34L1058.16 1484.61L1061.08 1485.88L1063.99 1487.17L1066.91 1488.46L1069.82 1489.76L1072.74 1491.06L1075.65 1492.38L1078.57 1493.7L1081.48 1495.03L1084.4 1496.37L1087.31 1497.71L1090.23 1499.07L1093.14 1500.43L1096.06 1501.8L1098.97 1503.18L1101.89 1504.56L1104.8 1505.96L1107.72 1507.36L1110.63 1508.78L1113.55 1510.2L1116.46 1511.63L1119.38 1513.07L1122.29 1514.52L1125.21 1515.97L1128.12 1517.44L1131.04 1518.92L1133.95 1520.4L1136.87 1521.9L1139.78 1523.4L1142.7 1524.91L1145.61 1526.44L1148.52 1527.97L1151.44 1529.51L1154.35 1531.07L1157.27 1532.63L1160.18 1534.2L1163.1 1535.79L1166.01 1537.38L1168.93 1538.98L1171.84 1540.6L1174.76 1542.22L1177.67 1543.86L1180.59 1545.51L1183.5 1547.16L1186.42 1548.83L1189.33 1550.51L1192.25 1552.2" fill="none" stroke="#000000" stroke-width="5.7" stroke-linejoin="round" stroke-linecap="butt"/>
<path d="M1192.25 1549.7L1192.25 2106.4" fill="none" stroke="#000000" stroke-width="4.8" stroke-linejoin="round" stroke-linecap="butt"/>
<path d="M320.7 1260.5L323.53 1261.07L326.35 1261.65L329.18 1262.22L332 1262.8L334.83 1263.38L337.66 1263.96L340.48 1264.53L343.31 1265.11L346.14 1265.69L348.96 1266.27L351.79 1266.85L354.61 1267.43L357.44 1268.01L360.26 1268.59L363.09 1269.17L365.91 1269.76L368.74 1270.34L371.56 1270.92L374.39 1271.5L377.21 1272.09L380.04 1272.67L382.86 1273.26L385.69 1273.84L388.51 1274.43L391.34 1275.02L394.16 1275.6L396.98 1276.19L399.81 1276.78L402.63 1277.37L405.45 1277.96L408.28 1278.55L411.1 1279.14L413.92 1279.73L416.75 1280.32L419.57 1280.92L422.39 1281.51L425.21 1282.1L428.03 1282.7L430.86 1283.29L433.68 1283.89L436.5 1284.49L439.32 1285.08L442.14 1285.68L444.96 1286.28L447.79 1286.88L450.61 1287.48L453.43 1288.08L456.25 1288.68L459.07 1289.28L461.89 1289.89L464.71 1290.49L467.53 1291.1L470.35 1291.7L473.17 1292.31L475.98 1292.91L478.8 1293.52L481.62 1294.13L484.44 1294.74L487.26 1295.35L490.08 1295.96L492.9 1296.57L495.71 1297.18L498.53 1297.8L501.35 1298.41L504.17 1299.03L506.98 1299.64L509.8 1300.26L512.62 1300.88L515.43 1301.49L518.25 1302.11L521.06 1302.73L523.88 1303.36L526.69 1303.98L529.51 1304.6L532.32 1305.22L535.14 1305.85L537.95 1306.47L540.77 1307.1L543.58 1307.73L546.4 1308.36L549.21 1308.99L552.02 1309.62L554.83 1310.25L557.65 1310.88L560.46 1311.52L563.27 1312.15L566.08 1312.79L568.9 1313.42L571.71 1314.06L574.52 1314.7L577.33 1315.34L580.14 1315.98L582.95 1316.62L585.76 1317.26L588.57 1317.91L591.38 1318.55L594.19 1319.2L597 1319.85L599.81 1320.5L602.62 1321.15L605.42 1321.8L608.23 1322.45L611.04 1323.1L613.85 1323.76L616.66 1324.41L619.46 1325.07L622.27 1325.72L625.07 1326.38L627.88 1327.04L630.69 1327.7L633.49 1328.37L636.3 1329.03L639.1 1329.7L641.91 1330.36L644.71 1331.03L647.51 1331.7L650.32 1332.37L653.12 1333.04L655.92 1333.71L658.73 1334.38L661.53 1335.06L664.33 1335.73L667.13 1336.41L669.93 1337.09L672.73 1337.77L675.54 1338.45L678.34 1339.13L681.14 1339.82L683.94 1340.5L686.73 1341.19L689.53 1341.88L692.33 1342.57L695.13 1343.26L697.93 1343.95L700.73 1344.64L703.52 1345.34L706.32 1346.04L709.12 1346.73L711.91 1347.43L714.71 1348.13L717.5 1348.83L720.3 1349.54L723.09 1350.24L725.89 1350.95L728.68 1351.66L731.48 1352.37L734.27 1353.08L737.06 1353.79L739.86 1354.5L742.65 1355.22L745.44 1355.93L748.23 1356.65L751.02 1357.37L753.81 1358.09L756.6 1358.82L759.39 1359.54L762.18 1360.27L764.97 1360.99L767.76 1361.72L770.55 1362.45L773.34 1363.18L776.13 1363.92L778.91 1364.65L781.7 1365.39L784.49 1366.13L787.27 1366.87L790.06 1367.61L792.84 1368.35L795.63 1369.1L798.41 1369.85L801.2 1370.59L803.98 1371.34L806.76 1372.09L809.55 1372.85L812.33 1373.6L815.11 1374.36L817.89 1375.12L820.67 1375.88L823.45 1376.64L826.23 1377.4L829.01 1378.17L831.79 1378.94L834.57 1379.7L837.35 1380.48L840.13 1381.25L842.9 1382.02L845.68 1382.8L848.46 1383.57L851.23 1384.35L854.01 1385.14L856.79 1385.92L859.56 1386.7L862.34 1387.49L865.11 1388.28L867.88 1389.07L870.66 1389.86L873.43 1390.65L876.2 1391.45L878.97 1392.25L881.74 1393.05L884.51 1393.85L887.28 1394.65L890.05 1395.46L892.82 1396.26L895.59 1397.07L898.36 1397.88L901.13 1398.7L903.9 1399.51L906.66 1400.33L909.43 1401.15L912.19 1401.97L914.96 1402.79L917.72 1403.62L920.49 1404.44L923.25 1405.27L926.02 1406.1L928.78 1406.93L931.54 1407.77L934.3 1408.61L937.07 1409.44L939.83 1410.29L942.59 1411.13L945.35 1411.97L948.11 1412.82L950.86 1413.67L953.62 1414.52L956.38 1415.37L959.14 1416.23L961.89 1417.08L964.65 1417.94L967.41 1418.81L970.16 1419.67L972.92 1420.53L975.67 1421.4L978.42 1422.27L981.18 1423.14L983.93 1424.02L986.68 1424.9L989.43 1425.77L992.18 1426.65L994.93 1427.54L997.68 1428.42L1000.43 1429.31L1003.18 1430.2L1005.93 1431.09L1008.68 1431.99L1011.43 1432.88L1014.17 1433.78L1016.92 1434.68L1019.66 1435.58L1022.41 1436.49L1025.15 1437.4L1027.9 1438.31L1030.64 1439.22L1033.38 1440.13L1036.12 1441.05L1038.86 1441.97L1041.6 1442.89L1044.34 1443.82L1047.08 1444.74L1049.82 1445.67L1052.55 1446.61L1055.29 1447.54L1058.03 1448.48L1060.76 1449.42L1063.49 1450.37L1066.22 1451.32L1068.95 1452.27L1071.68 1453.22L1074.41 1454.18L1077.14 1455.14L1079.86 1456.11L1082.58 1457.07L1085.31 1458.05L1088.03 1459.02L1090.75 1460L1093.47 1460.98L1096.18 1461.97L1098.9 1462.96L1101.61 1463.95L1104.32 1464.95L1107.03 1465.95L1109.74 1466.95L1112.45 1467.96L1115.15 1468.98L1117.85 1470L1120.56 1471.02L1123.25 1472.04L1125.95 1473.07L1128.65 1474.11L1131.34 1475.15L1134.03 1476.19L1136.72 1477.24L1139.41 1478.29L1142.09 1479.35L1144.77 1480.41L1147.45 1481.48L1150.13 1482.55L1152.81 1483.63L1155.48 1484.71L1158.15 1485.8L1160.82 1486.89L1163.48 1487.99L1166.15 1489.09L1168.81 1490.2L1171.46 1491.31L1174.12 1492.43L1176.77 1493.56L1179.42 1494.69L1182.07 1495.82L1184.71 1496.96L1187.36 1498.11L1189.99 1499.26L1192.63 1500.42L1195.26 1501.58L1197.89 1502.75L1200.52 1503.93L1203.14 1505.11L1205.76 1506.3L1208.38 1507.49L1211 1508.69L1213.61 1509.9L1216.21 1511.11L1218.82 1512.33L1221.42 1513.55L1224.02 1514.78L1226.61 1516.02L1229.2 1517.27L1231.79 1518.52L1234.38 1519.77L1236.96 1521.04L1239.53 1522.31L1242.11 1523.59L1244.68 1524.87L1247.24 1526.17L1249.8 1527.46L1252.36 1528.77L1254.92 1530.09L1257.47 1531.41L1260.01 1532.73L1262.55 1534.07L1265.09 1535.41L1267.63 1536.77L1270.16 1538.12L1272.68 1539.49L1275.2 1540.87L1277.72 1542.25L1280.23 1543.64L1282.74 1545.04L1285.24 1546.44L1287.74 1547.86L1290.23 1549.28L1292.72 1550.72L1295.2 1552.16L1297.68 1553.6L1300.15 1555.06L1302.62 1556.53L1305.08 1558L1307.54 1559.49L1310 1560.98L1312.44 1562.48L1314.89 1563.99L1317.32 1565.51L1319.75 1567.04L1322.18 1568.58L1324.6 1570.13L1327.02 1571.69L1329.43 1573.25L1331.83 1574.83L1334.23 1576.42L1336.62 1578.01L1339.01 1579.62L1341.39 1581.24L1343.76 1582.86L1346.13 1584.5L1348.49 1586.14L1350.85 1587.8L1353.2 1589.47L1355.54 1591.14L1357.88 1592.83L1360.21 1594.53L1362.54 1596.24L1364.86 1597.96L1367.17 1599.69L1369.47 1601.43L1371.77 1603.18L1374.06 1604.94L1376.35 1606.72L1378.63 1608.5L1380.9 1610.3L1383.16 1612.11L1385.42 1613.93L1387.67 1615.76L1389.91 1617.6L1392.15 1619.45L1394.38 1621.32L1396.6 1623.2L1398.82 1625.09L1401.02 1626.99" fill="none" stroke="#0033ff" stroke-width="5.2" stroke-linejoin="round" stroke-dasharray="17.3 27.55" stroke-linecap="round" stroke-dashoffset="-2.2"/>
<path d="M1401.01 1627L1407.75 2026L1408.29 2026.1L1408.82 2026.2L1409.35 2026.31L1409.88 2026.41L1410.42 2026.51L1410.95 2026.61L1411.48 2026.71L1412.02 2026.81L1412.55 2026.91L1413.08 2027.01L1413.62 2027.1L1414.15 2027.2L1414.69 2027.3L1415.22 2027.4L1415.75 2027.49L1416.29 2027.59L1416.82 2027.69L1417.35 2027.78L1417.89 2027.88L1418.42 2027.97L1418.96 2028.07L1419.49 2028.16L1420.02 2028.26L1420.56 2028.35L1421.09 2028.45L1421.63 2028.54L1422.16 2028.63L1422.7 2028.72L1423.23 2028.82L1423.76 2028.91L1424.3 2029L1424.83 2029.09L1425.37 2029.18L1425.9 2029.27L1426.44 2029.36L1426.97 2029.45L1427.51 2029.54L1428.04 2029.63L1428.58 2029.72L1429.11 2029.81L1429.65 2029.89L1430.18 2029.98L1430.72 2030.07L1431.25 2030.16L1431.79 2030.24L1432.32 2030.33L1432.86 2030.42L1433.39 2030.5L1433.93 2030.59L1434.46 2030.67L1435 2030.76L1435.53 2030.84L1436.07 2030.93L1436.6 2031.01L1437.14 2031.09L1437.67 2031.18L1438.21 2031.26L1438.75 2031.34L1439.28 2031.42L1439.82 2031.51L1440.35 2031.59L1440.89 2031.67L1441.42 2031.75L1441.96 2031.83L1442.5 2031.91L1443.03 2031.99L1443.57 2032.07L1444.1 2032.15L1444.64 2032.23L1445.18 2032.31L1445.71 2032.39L1446.25 2032.47L1446.78 2032.54L1447.32 2032.62L1447.86 2032.7L1448.39 2032.78L1448.93 2032.85L1449.47 2032.93L1450 2033.01L1450.54 2033.08L1451.07 2033.16L1451.61 2033.23L1452.15 2033.31L1452.68 2033.38L1453.22 2033.46L1453.76 2033.53L1454.29 2033.61L1454.83 2033.68L1455.37 2033.75L1455.9 2033.83L1456.44 2033.9L1456.98 2033.97L1457.51 2034.05L1458.05 2034.12L1458.59 2034.19L1459.13 2034.26L1459.66 2034.33L1460.2 2034.4L1460.74 2034.48L1461.27 2034.55L1461.81 2034.62L1462.35 2034.69L1462.89 2034.76L1463.42 2034.83L1463.96 2034.9L1464.5 2034.96L1465.03 2035.03L1465.57 2035.1L1466.11 2035.17L1466.65 2035.24L1467.18 2035.31L1467.72 2035.37L1468.26 2035.44L1468.8 2035.51L1469.33 2035.58L1469.87 2035.64L1470.41 2035.71L1470.95 2035.78L1471.48 2035.84L1472.02 2035.91L1472.56 2035.97L1473.1 2036.04L1473.64 2036.1L1474.17 2036.17L1474.71 2036.23L1475.25 2036.3L1475.79 2036.36L1476.33 2036.43L1476.86 2036.49L1477.4 2036.55L1477.94 2036.62L1478.48 2036.68L1479.02 2036.74L1479.55 2036.81L1480.09 2036.87L1480.63 2036.93L1481.17 2036.99L1481.71 2037.05L1482.24 2037.12L1482.78 2037.18L1483.32 2037.24L1483.86 2037.3L1484.4 2037.36L1484.94 2037.42L1485.47 2037.48L1486.01 2037.54L1486.55 2037.6L1487.09 2037.66L1487.63 2037.72L1488.17 2037.78L1488.71 2037.84L1489.24 2037.9L1489.78 2037.96L1490.32 2038.02L1490.86 2038.08L1491.4 2038.13L1491.94 2038.19L1492.48 2038.25L1493.01 2038.31L1493.55 2038.37L1494.09 2038.42L1494.63 2038.48L1495.17 2038.54L1495.71 2038.6L1496.25 2038.65L1496.79 2038.71L1497.33 2038.77L1497.86 2038.82L1498.4 2038.88L1498.94 2038.93L1499.48 2038.99L1500.02 2039.04L1500.56 2039.1L1501.1 2039.16L1501.64 2039.21L1502.18 2039.27L1502.72 2039.32L1503.25 2039.38L1503.79 2039.43L1504.33 2039.48L1504.87 2039.54L1505.41 2039.59L1505.95 2039.65L1506.49 2039.7L1507.03 2039.75L1507.57 2039.81L1508.11 2039.86L1508.65 2039.91L1509.19 2039.97L1509.73 2040.02L1510.26 2040.07L1510.8 2040.13L1511.34 2040.18L1511.88 2040.23L1512.42 2040.28L1512.96 2040.33L1513.5 2040.39L1514.04 2040.44L1514.58 2040.49L1515.12 2040.54L1515.66 2040.59L1516.2 2040.64L1516.74 2040.7L1517.28 2040.75L1517.82 2040.8L1518.36 2040.85L1518.9 2040.9L1519.44 2040.95L1519.98 2041L1520.52 2041.05L1521.05 2041.1L1521.59 2041.15L1522.13 2041.2L1522.67 2041.25L1523.21 2041.3L1523.75 2041.35L1524.29 2041.4L1524.83 2041.45L1525.37 2041.5L1525.91 2041.55L1526.45 2041.6L1526.99 2041.65L1527.53 2041.7L1528.07 2041.74L1528.61 2041.79L1529.15 2041.84L1529.69 2041.89L1530.23 2041.94L1530.77 2041.99L1531.31 2042.04L1531.85 2042.08L1532.39 2042.13L1532.93 2042.18L1533.47 2042.23L1534.01 2042.28L1534.55 2042.32L1535.09 2042.37L1535.63 2042.42L1536.17 2042.47L1536.71 2042.51L1537.25 2042.56L1537.79 2042.61L1538.33 2042.66L1538.87 2042.7L1539.41 2042.75L1539.95 2042.8L1540.49 2042.85L1541.03 2042.89L1541.57 2042.94L1542.11 2042.99L1542.65 2043.03L1543.19 2043.08L1543.73 2043.13L1544.27 2043.17L1544.81 2043.22L1545.35 2043.27L1545.89 2043.31L1546.43 2043.36L1546.97 2043.41L1547.51 2043.45L1548.05 2043.5L1548.59 2043.54L1549.13 2043.59L1549.67 2043.64L1550.21 2043.68L1550.75 2043.73L1551.29 2043.78L1551.83 2043.82L1552.37 2043.87L1552.91 2043.91L1553.45 2043.96L1553.99 2044L1554.53 2044.05L1555.07 2044.1L1555.61 2044.14L1556.15 2044.19L1556.69 2044.23L1557.23 2044.28L1557.77 2044.32L1558.31 2044.37L1558.85 2044.42L1559.39 2044.46L1559.93 2044.51L1560.47 2044.55L1561.01 2044.6L1561.56 2044.64L1562.1 2044.69L1562.64 2044.73L1563.18 2044.78L1563.72 2044.82L1564.26 2044.87L1564.8 2044.92L1565.34 2044.96L1565.88 2045.01L1566.42 2045.05L1566.96 2045.1L1567.5 2045.14L1568.04 2045.19L1568.58 2045.23L1569.12 2045.28L1569.66 2045.32L1570.2 2045.37L1570.74 2045.42L1571.28 2045.46L1571.82 2045.51L1572.36 2045.55L1572.9 2045.6L1573.44 2045.64L1573.98 2045.69L1574.52 2045.73L1575.06 2045.78L1575.6 2045.82L1576.14 2045.87L1576.68 2045.92L1577.22 2045.96L1577.76 2046.01L1578.3 2046.05L1578.84 2046.1L1579.38 2046.14L1579.92 2046.19L1580.46 2046.23L1581 2046.28L1581.54 2046.33L1582.08 2046.37L1582.62 2046.42L1583.16 2046.46L1583.7 2046.51L1584.24 2046.56L1584.78 2046.6L1585.32 2046.65L1585.86 2046.69L1586.4 2046.74L1586.94 2046.79L1587.48 2046.83L1588.02 2046.88L1588.56 2046.93L1589.1 2046.97L1589.64 2047.02L1590.18 2047.06L1590.72 2047.11L1591.26 2047.16L1591.8 2047.2L1592.34 2047.25L1592.88 2047.3L1593.42 2047.34L1593.96 2047.39L1594.5 2047.44L1595.04 2047.49L1595.58 2047.53L1596.12 2047.58L1596.66 2047.63L1597.2 2047.67L1597.74 2047.72L1598.28 2047.77L1598.82 2047.82L1599.36 2047.86L1599.9 2047.91L1600.44 2047.96L1600.98 2048.01L1601.52 2048.06L1602.06 2048.1L1602.6 2048.15L1603.14 2048.2L1603.68 2048.25L1604.22 2048.3L1604.76 2048.34L1605.3 2048.39L1605.84 2048.44L1606.38 2048.49L1606.92 2048.54L1607.46 2048.59L1607.99 2048.64L1608.53 2048.69L1609.07 2048.73L1609.61 2048.78L1610.15 2048.83L1610.69 2048.88L1611.23 2048.93L1611.77 2048.98L1612.31 2049.03L1612.85 2049.08L1613.39 2049.13L1613.93 2049.18L1614.47 2049.23L1615.01 2049.28L1615.55 2049.33L1616.09 2049.38L1616.63 2049.43L1617.17 2049.48L1617.71 2049.54L1618.24 2049.59L1618.78 2049.64L1619.32 2049.69L1619.86 2049.74L1620.4 2049.79L1620.94 2049.84L1621.48 2049.9L1622.02 2049.95L1622.56 2050" fill="none" stroke="#0033ff" stroke-width="5.2" stroke-linejoin="round" stroke-dasharray="17.3 27.55" stroke-linecap="round" stroke-dashoffset="-20.1"/>
<path d="M320.7 1246.8L322.7 1247.12L324.71 1247.44L326.71 1247.77L328.72 1248.11L330.72 1248.45L332.72 1248.8L334.71 1249.16L336.71 1249.52L338.7 1249.89L340.7 1250.26L342.69 1250.64L344.68 1251.03L346.67 1251.42L348.65 1251.82L350.64 1252.22L352.63 1252.63L354.61 1253.04L356.59 1253.46L358.57 1253.88L360.55 1254.31L362.53 1254.74L364.51 1255.18L366.48 1255.62L368.46 1256.07L370.43 1256.52L372.41 1256.98L374.38 1257.44L376.35 1257.9L378.32 1258.37L380.29 1258.84L382.26 1259.31L384.23 1259.79L386.19 1260.27L388.16 1260.75L390.13 1261.24L392.09 1261.73L394.05 1262.22L396.02 1262.72L397.98 1263.22L399.94 1263.72L401.9 1264.23L403.86 1264.73L405.82 1265.24L407.78 1265.75L409.74 1266.26L411.7 1266.78L413.66 1267.3L415.62 1267.82L417.58 1268.34L419.53 1268.86L421.49 1269.38L423.45 1269.9L425.4 1270.43L427.36 1270.96L429.32 1271.48L431.27 1272.01L433.23 1272.54L435.18 1273.07L437.14 1273.6L439.1 1274.13L441.05 1274.66L443.01 1275.19L444.96 1275.72L446.92 1276.25L448.87 1276.78L450.83 1277.31L452.79 1277.84L454.74 1278.37L456.7 1278.9L458.65 1279.43L460.61 1279.95L462.57 1280.48L464.53 1281L466.48 1281.53L468.44 1282.05L470.4 1282.57L472.36 1283.09L474.32 1283.61L476.28 1284.12L478.24 1284.64L480.2 1285.16L482.16 1285.67L484.12 1286.18L486.08 1286.7L488.04 1287.21L490 1287.72L491.96 1288.23L493.93 1288.74L495.89 1289.24L497.85 1289.75L499.81 1290.26L501.78 1290.76L503.74 1291.27L505.7 1291.77L507.66 1292.28L509.63 1292.78L511.59 1293.28L513.56 1293.78L515.52 1294.29L517.48 1294.79L519.45 1295.29L521.41 1295.79L523.38 1296.29L525.34 1296.79L527.31 1297.29L529.27 1297.78L531.23 1298.28L533.2 1298.78L535.16 1299.28L537.13 1299.78L539.09 1300.28L541.06 1300.77L543.02 1301.27L544.99 1301.77L546.95 1302.27L548.92 1302.76L550.88 1303.26L552.85 1303.76L554.81 1304.26L556.78 1304.75L558.74 1305.25L560.71 1305.75L562.67 1306.25L564.63 1306.75L566.6 1307.25L568.56 1307.75L570.53 1308.25L572.49 1308.75L574.45 1309.25L576.42 1309.75L578.38 1310.25L580.35 1310.75L582.31 1311.25L584.27 1311.76L586.23 1312.26L588.2 1312.76L590.16 1313.27L592.12 1313.77L594.08 1314.28L596.04 1314.79L598.01 1315.3L599.97 1315.8L601.93 1316.31L603.89 1316.82L605.85 1317.33L607.81 1317.85L609.77 1318.36L611.73 1318.87L613.69 1319.39L615.65 1319.9L617.61 1320.42L619.56 1320.94L621.52 1321.46L623.48 1321.98L625.44 1322.5L627.4 1323.02L629.35 1323.54L631.31 1324.06L633.27 1324.59L635.22 1325.11L637.18 1325.64L639.13 1326.17L641.09 1326.69L643.04 1327.22L645 1327.75L646.95 1328.28L648.91 1328.82L650.86 1329.35L652.81 1329.88L654.77 1330.42L656.72 1330.95L658.67 1331.49L660.63 1332.03L662.58 1332.57L664.53 1333.11L666.48 1333.65L668.43 1334.19L670.38 1334.73L672.33 1335.28L674.28 1335.82L676.24 1336.37L678.18 1336.91L680.13 1337.46L682.08 1338.01L684.03 1338.56L685.98 1339.11L687.93 1339.67L689.88 1340.22L691.83 1340.77L693.77 1341.33L695.72 1341.88L697.67 1342.44L699.61 1343L701.56 1343.56L703.51 1344.12L705.45 1344.68L707.4 1345.25L709.34 1345.81L711.29 1346.37L713.23 1346.94L715.17 1347.51L717.12 1348.08L719.06 1348.65L721.01 1349.22L722.95 1349.79L724.89 1350.36L726.83 1350.93L728.78 1351.51L730.72 1352.08L732.66 1352.66L734.6 1353.24L736.54 1353.82L738.48 1354.4L740.42 1354.98L742.36 1355.56L744.3 1356.15L746.24 1356.73L748.18 1357.32L750.12 1357.91L752.06 1358.5L753.99 1359.09L755.93 1359.68L757.87 1360.27L759.81 1360.86L761.74 1361.46L763.68 1362.05L765.62 1362.65L767.55 1363.25L769.49 1363.85L771.42 1364.45L773.36 1365.05L775.29 1365.65L777.23 1366.25L779.16 1366.86L781.09 1367.47L783.03 1368.07L784.96 1368.68L786.89 1369.29L788.83 1369.9L790.76 1370.52L792.69 1371.13L794.62 1371.74L796.55 1372.36L798.48 1372.98L800.42 1373.6L802.35 1374.22L804.28 1374.84L806.2 1375.46L808.13 1376.08L810.06 1376.71L811.99 1377.33L813.92 1377.96L815.85 1378.59L817.78 1379.22L819.7 1379.85L821.63 1380.48L823.56 1381.12L825.48 1381.75L827.41 1382.39L829.33 1383.02L831.26 1383.66L833.18 1384.3L835.11 1384.94L837.03 1385.58L838.95 1386.23L840.88 1386.87L842.8 1387.52L844.72 1388.16L846.64 1388.81L848.57 1389.46L850.49 1390.11L852.41 1390.76L854.33 1391.42L856.25 1392.07L858.17 1392.73L860.09 1393.39L862 1394.04L863.92 1394.7L865.84 1395.36L867.76 1396.03L869.67 1396.69L871.59 1397.35L873.51 1398.02L875.42 1398.68L877.34 1399.35L879.25 1400.02L881.16 1400.69L883.08 1401.36L884.99 1402.04L886.9 1402.71L888.81 1403.39L890.73 1404.06L892.64 1404.74L894.55 1405.42L896.46 1406.1L898.37 1406.78L900.28 1407.46L902.18 1408.15L904.09 1408.83L906 1409.52L907.91 1410.21L909.81 1410.9L911.72 1411.59L913.62 1412.28L915.53 1412.97L917.43 1413.67L919.34 1414.36L921.24 1415.06L923.14 1415.75L925.04 1416.45L926.95 1417.15L928.85 1417.85L930.75 1418.56L932.65 1419.26L934.54 1419.97L936.44 1420.67L938.34 1421.38L940.24 1422.09L942.14 1422.8L944.03 1423.51L945.93 1424.22L947.82 1424.93L949.72 1425.65L951.61 1426.37L953.5 1427.08L955.39 1427.8L957.29 1428.52L959.18 1429.24L961.07 1429.96L962.96 1430.69L964.85 1431.41L966.74 1432.14L968.62 1432.86L970.51 1433.59L972.4 1434.32L974.28 1435.05L976.17 1435.79L978.06 1436.52L979.94 1437.25L981.82 1437.99L983.71 1438.73L985.59 1439.47L987.47 1440.21L989.35 1440.95L991.23 1441.69L993.11 1442.43L994.99 1443.18L996.87 1443.92L998.75 1444.67L1000.63 1445.42L1002.51 1446.17L1004.38 1446.92L1006.26 1447.68L1008.14 1448.43L1010.01 1449.19L1011.89 1449.95L1013.76 1450.7L1015.64 1451.46L1017.51 1452.23L1019.38 1452.99L1021.25 1453.75L1023.13 1454.52L1025 1455.29L1026.87 1456.05L1028.74 1456.82L1030.61 1457.6L1032.48 1458.37L1034.35 1459.14L1036.22 1459.92L1038.08 1460.7L1039.95 1461.47L1041.82 1462.26L1043.69 1463.04L1045.55 1463.82L1047.42 1464.6L1049.28 1465.39L1051.15 1466.18L1053.01 1466.97L1054.88 1467.76L1056.74 1468.55L1058.6 1469.34L1060.47 1470.14L1062.33 1470.94L1064.19 1471.73L1066.05 1472.53L1067.91 1473.33L1069.78 1474.14L1071.64 1474.94L1073.5 1475.75L1075.35 1476.56L1077.21 1477.37L1079.07 1478.18L1080.93 1478.99L1082.78 1479.81L1084.64 1480.63L1086.5 1481.44L1088.35 1482.27L1090.2 1483.09L1092.06 1483.91L1093.91 1484.74L1095.76 1485.57L1097.61 1486.4L1099.46 1487.24L1101.31 1488.07L1103.16 1488.91L1105 1489.75L1106.85 1490.59L1108.69 1491.44L1110.54 1492.28L1112.38 1493.13L1114.22 1493.99L1116.06 1494.84L1117.9 1495.7L1119.74 1496.56L1121.57 1497.42L1123.41 1498.28L1125.24 1499.15L1127.07 1500.02L1128.9 1500.89L1130.73 1501.77L1132.56 1502.65L1134.39 1503.53L1136.22 1504.41L1138.04 1505.3L1139.86 1506.19L1141.68 1507.08L1143.5 1507.97L1145.32 1508.87L1147.14 1509.77L1148.95 1510.68L1150.77 1511.59L1152.58 1512.5L1154.39 1513.41L1156.2 1514.33L1158 1515.25L1159.81 1516.17L1161.61 1517.1L1163.41 1518.03L1165.21 1518.96L1167.01 1519.89L1168.8 1520.83L1170.59 1521.78L1172.39 1522.72L1174.18 1523.67L1175.96 1524.63L1177.75 1525.59L1179.53 1526.55L1181.31 1527.51L1183.09 1528.48L1184.87 1529.45L1186.64 1530.43L1188.42 1531.4L1190.19 1532.39L1191.95 1533.37L1193.72 1534.37L1195.48 1535.36L1197.24 1536.36L1199 1537.36L1200.76 1538.37L1202.51 1539.38L1204.26 1540.39L1206.01 1541.41L1207.76 1542.43L1209.5 1543.46L1211.24 1544.49L1212.98 1545.53L1214.72 1546.57L1216.45 1547.61L1218.18 1548.66L1219.91 1549.71L1221.64 1550.77L1223.36 1551.83L1225.08 1552.89L1226.8 1553.96L1228.51 1555.04L1230.22 1556.12L1231.93 1557.2L1233.64 1558.29L1235.34 1559.38L1237.04 1560.48L1238.73 1561.58L1240.43 1562.69L1242.12 1563.8L1243.81 1564.92L1245.49 1566.04L1247.17 1567.17L1248.85 1568.3L1250.52 1569.44L1252.19 1570.58L1253.86 1571.72L1255.53 1572.88L1257.19 1574.03L1258.84 1575.2L1260.49 1576.37L1262.14 1577.54L1263.78 1578.72L1265.42 1579.91L1267.06 1581.1L1268.69 1582.3L1270.32 1583.5L1271.94 1584.71L1273.56 1585.92L1275.17 1587.15L1276.78 1588.37L1278.38 1589.61L1279.98 1590.85L1281.58 1592.09L1283.17 1593.35L1284.75 1594.61L1286.33 1595.87L1287.9 1597.14L1289.47 1598.42L1291.04 1599.71L1292.59 1601L1294.15 1602.3L1295.69 1603.61L1297.23 1604.92L1298.77 1606.24L1300.3 1607.57L1301.82 1608.9L1303.34 1610.25L1304.85 1611.6L1306.36 1612.95L1307.86 1614.32L1309.35 1615.69L1310.84 1617.07L1312.32 1618.45L1313.79 1619.84L1315.26 1621.24L1316.73 1622.65L1318.19 1624.06L1319.64 1625.48L1321.09 1626.9L1322.53 1628.33L1323.97 1629.76L1325.4 1631.2L1326.83 1632.65L1328.25 1634.1L1329.67 1635.55L1331.08 1637.01L1332.49 1638.47L1333.89 1639.94L1335.29 1641.41L1336.69 1642.88L1338.08 1644.36L1339.46 1645.84L1340.85 1647.33L1342.23 1648.81L1343.6 1650.3L1344.97 1651.8L1346.34 1653.29L1347.69 1654.8L1349.04 1656.3L1350.39 1657.82L1351.72 1659.34L1353.04 1660.87L1354.36 1662.41L1355.66 1663.95L1356.95 1665.51L1358.23 1667.07L1359.49 1668.65L1360.74 1670.24L1361.97 1671.84L1363.19 1673.45L1364.39 1675.08L1365.58 1676.72L1366.75 1678.37L1367.9 1680.03L1369.03 1681.7L1370.15 1683.38L1371.25 1685.08L1372.34 1686.79L1373.41 1688.51L1374.46 1690.23L1375.49 1691.97L1376.5 1693.72L1377.5 1695.48L1378.48 1697.25L1379.44 1699.04L1380.38 1700.83L1381.3 1702.62L1382.2 1704.43L1383.09 1706.25L1383.95 1708.08L1384.8 1709.92L1385.62 1711.76L1386.43 1713.62L1387.22 1715.48L1387.98 1717.35L1388.73 1719.23L1389.45 1721.11L1390.16 1723.01L1390.84 1724.91L1391.51 1726.82L1392.15 1728.74L1392.77 1730.66L1393.37 1732.59L1393.95 1734.53L1394.5 1736.47L1395.04 1738.42L1395.55 1740.38L1396.04 1742.34L1396.51 1744.31L1396.95 1746.28L1397.37 1748.26L1397.77 1750.25L1398.15 1752.24L1398.5 1754.23L1398.83 1756.23L1399.14 1758.24L1399.43 1760.25L1399.7 1762.26L1399.95 1764.27L1400.19 1766.29L1400.41 1768.31L1400.62 1770.33L1400.82 1772.36L1401 1774.38L1401.18 1776.4L1401.35 1778.43L1401.51 1780.45L1401.66 1782.47L1401.82 1784.5L1401.97 1786.52L1402.11 1788.54L1402.26 1790.55L1402.41 1792.56L1402.56 1794.58L1402.71 1796.59L1402.86 1798.59L1403.01 1800.6L1403.16 1802.61L1403.31 1804.61L1403.46 1806.61L1403.61 1808.62L1403.76 1810.62L1403.92 1812.63L1404.07 1814.63L1404.22 1816.64L1404.37 1818.64L1404.52 1820.65L1404.68 1822.66L1404.83 1824.67L1404.98 1826.69L1405.14 1828.7L1405.29 1830.72L1405.44 1832.75L1405.6 1834.77L1405.75 1836.8L1405.9 1838.83L1406.06 1840.87L1406.21 1842.91L1406.37 1844.96L1406.52 1847.01L1406.67 1849.06L1406.83 1851.12L1406.99 1853.18L1407.16 1855.25L1407.33 1857.31L1407.51 1859.38L1407.7 1861.44L1407.9 1863.5L1408.11 1865.56L1408.33 1867.62L1408.57 1869.68L1408.83 1871.72L1409.1 1873.77L1409.4 1875.8L1409.71 1877.83L1410.04 1879.86L1410.4 1881.87L1410.78 1883.87L1411.19 1885.86L1411.63 1887.84L1412.1 1889.81L1412.59 1891.76L1413.12 1893.7L1413.68 1895.63L1414.27 1897.53L1414.9 1899.43L1415.57 1901.3L1416.28 1903.16L1417.03 1904.99L1417.82 1906.81L1418.65 1908.6L1419.52 1910.38L1420.45 1912.13L1421.41 1913.85L1422.42 1915.56L1423.47 1917.24L1424.56 1918.9L1425.69 1920.53L1426.86 1922.14L1428.07 1923.73L1429.31 1925.29L1430.59 1926.83L1431.9 1928.34L1433.24 1929.82L1434.61 1931.29L1436.02 1932.72L1437.45 1934.13L1438.92 1935.52L1440.4 1936.88L1441.92 1938.21L1443.46 1939.52L1445.02 1940.8L1446.6 1942.05L1448.21 1943.28L1449.84 1944.48L1451.48 1945.65L1453.14 1946.79L1454.83 1947.92L1456.53 1949.01L1458.24 1950.08L1459.97 1951.13L1461.72 1952.16L1463.49 1953.16L1465.26 1954.15L1467.05 1955.11L1468.86 1956.05L1470.68 1956.98L1472.5 1957.88L1474.35 1958.76L1476.2 1959.63L1478.06 1960.48L1479.93 1961.32L1481.81 1962.14L1483.7 1962.94L1485.59 1963.73L1487.49 1964.51L1489.4 1965.27L1491.32 1966.02L1493.24 1966.76L1495.16 1967.49L1497.09 1968.21L1499.02 1968.92L1500.95 1969.61L1502.89 1970.3L1504.83 1970.99L1506.77 1971.66L1508.71 1972.33L1510.64 1972.99L1512.58 1973.65L1514.52 1974.3L1516.45 1974.94L1518.39 1975.59L1520.32 1976.22L1522.25 1976.85L1524.18 1977.48L1526.11 1978.1L1528.04 1978.71L1529.97 1979.32L1531.9 1979.92L1533.83 1980.52L1535.76 1981.11L1537.69 1981.69L1539.62 1982.27L1541.55 1982.84L1543.48 1983.41L1545.42 1983.96L1547.35 1984.52L1549.28 1985.06L1551.22 1985.6L1553.15 1986.13L1555.09 1986.66L1557.03 1987.18L1558.96 1987.69L1560.91 1988.19L1562.85 1988.69L1564.79 1989.18L1566.74 1989.66L1568.69 1990.14L1570.64 1990.6L1572.59 1991.06L1574.55 1991.52L1576.51 1991.96L1578.47 1992.4L1580.43 1992.82L1582.4 1993.24L1584.37 1993.65L1586.34 1994.06L1588.32 1994.45L1590.3 1994.84L1592.28 1995.22L1594.27 1995.59L1596.26 1995.95L1598.26 1996.3L1600.26 1996.64L1602.26 1996.98L1604.27 1997.3L1606.28 1997.62L1608.3 1997.92L1610.32 1998.22L1612.35 1998.51L1614.38 1998.78L1616.42 1999.05L1618.46 1999.31L1620.51 1999.56L1622.56 1999.8" fill="none" stroke="#ff0000" stroke-width="5.2" stroke-linejoin="round" stroke-linecap="butt"/>
<path d="M320.7 1234.59L323.15 1235.11L325.6 1235.63L328.05 1236.14L330.5 1236.66L332.95 1237.18L335.41 1237.7L337.86 1238.22L340.31 1238.75L342.76 1239.27L345.21 1239.79L347.66 1240.32L350.11 1240.84L352.56 1241.37L355.01 1241.89L357.46 1242.42L359.9 1242.95L362.35 1243.48L364.8 1244.01L367.25 1244.54L369.7 1245.07L372.15 1245.6L374.59 1246.14L377.04 1246.67L379.49 1247.21L381.93 1247.74L384.38 1248.28L386.83 1248.81L389.27 1249.35L391.72 1249.89L394.16 1250.43L396.61 1250.97L399.05 1251.51L401.5 1252.05L403.94 1252.6L406.39 1253.14L408.83 1253.68L411.28 1254.23L413.72 1254.78L416.16 1255.32L418.61 1255.87L421.05 1256.42L423.49 1256.97L425.93 1257.52L428.38 1258.07L430.82 1258.62L433.26 1259.17L435.7 1259.73L438.14 1260.28L440.58 1260.84L443.02 1261.39L445.46 1261.95L447.9 1262.51L450.34 1263.07L452.78 1263.63L455.22 1264.19L457.66 1264.75L460.1 1265.31L462.54 1265.88L464.98 1266.44L467.42 1267L469.86 1267.57L472.29 1268.14L474.73 1268.7L477.17 1269.27L479.61 1269.84L482.04 1270.41L484.48 1270.98L486.91 1271.56L489.35 1272.13L491.79 1272.7L494.22 1273.28L496.66 1273.85L499.09 1274.43L501.53 1275.01L503.96 1275.59L506.4 1276.17L508.83 1276.75L511.26 1277.33L513.7 1277.91L516.13 1278.49L518.56 1279.08L521 1279.66L523.43 1280.25L525.86 1280.83L528.29 1281.42L530.72 1282.01L533.15 1282.6L535.59 1283.19L538.02 1283.78L540.45 1284.37L542.88 1284.97L545.31 1285.56L547.74 1286.15L550.17 1286.75L552.6 1287.35L555.03 1287.95L557.45 1288.54L559.88 1289.14L562.31 1289.75L564.74 1290.35L567.17 1290.95L569.59 1291.55L572.02 1292.16L574.45 1292.76L576.87 1293.37L579.3 1293.98L581.73 1294.59L584.15 1295.2L586.58 1295.81L589 1296.42L591.43 1297.03L593.85 1297.65L596.28 1298.26L598.7 1298.88L601.13 1299.49L603.55 1300.11L605.97 1300.73L608.4 1301.35L610.82 1301.97L613.24 1302.59L615.66 1303.21L618.09 1303.84L620.51 1304.46L622.93 1305.09L625.35 1305.71L627.77 1306.34L630.19 1306.97L632.61 1307.6L635.03 1308.23L637.45 1308.86L639.87 1309.49L642.29 1310.13L644.71 1310.76L647.13 1311.4L649.55 1312.04L651.96 1312.67L654.38 1313.31L656.8 1313.95L659.22 1314.59L661.63 1315.24L664.05 1315.88L666.47 1316.52L668.88 1317.17L671.3 1317.81L673.71 1318.46L676.13 1319.11L678.54 1319.76L680.96 1320.41L683.37 1321.06L685.79 1321.71L688.2 1322.37L690.61 1323.02L693.03 1323.68L695.44 1324.34L697.85 1324.99L700.27 1325.65L702.68 1326.31L705.09 1326.97L707.5 1327.64L709.91 1328.3L712.32 1328.97L714.73 1329.63L717.14 1330.3L719.55 1330.97L721.96 1331.63L724.37 1332.3L726.78 1332.98L729.19 1333.65L731.6 1334.32L734.01 1335L736.42 1335.67L738.82 1336.35L741.23 1337.03L743.64 1337.71L746.05 1338.39L748.45 1339.07L750.86 1339.75L753.26 1340.43L755.67 1341.12L758.07 1341.8L760.48 1342.49L762.88 1343.18L765.29 1343.87L767.69 1344.56L770.1 1345.25L772.5 1345.94L774.9 1346.64L777.31 1347.33L779.71 1348.03L782.11 1348.72L784.51 1349.42L786.91 1350.12L789.32 1350.82L791.72 1351.52L794.12 1352.23L796.52 1352.93L798.92 1353.64L801.32 1354.34L803.72 1355.05L806.12 1355.76L808.52 1356.47L810.91 1357.18L813.31 1357.89L815.71 1358.61L818.11 1359.32L820.5 1360.04L822.9 1360.76L825.3 1361.47L827.69 1362.19L830.09 1362.91L832.49 1363.64L834.88 1364.36L837.28 1365.08L839.67 1365.81L842.07 1366.54L844.46 1367.26L846.85 1367.99L849.25 1368.72L851.64 1369.46L854.03 1370.19L856.43 1370.92L858.82 1371.66L861.21 1372.39L863.6 1373.13L865.99 1373.87L868.39 1374.61L870.78 1375.35L873.17 1376.1L875.56 1376.84L877.95 1377.58L880.34 1378.33L882.72 1379.08L885.11 1379.83L887.5 1380.58L889.89 1381.33L892.28 1382.08L894.67 1382.84L897.05 1383.59L899.44 1384.35L901.83 1385.1L904.21 1385.86L906.6 1386.62L908.98 1387.39L911.37 1388.15L913.75 1388.91L916.14 1389.68L918.52 1390.44L920.91 1391.21L923.29 1391.98L925.67 1392.75L928.06 1393.52L930.44 1394.3L932.82 1395.07L935.2 1395.85L937.58 1396.62L939.96 1397.4L942.35 1398.18L944.73 1398.96L947.11 1399.74L949.49 1400.53L951.87 1401.31L954.25 1402.1L956.62 1402.88L959 1403.67L961.38 1404.46L963.76 1405.25L966.14 1406.05L968.51 1406.84L970.89 1407.63L973.27 1408.43L975.64 1409.23L978.02 1410.03L980.39 1410.83L982.77 1411.63L985.14 1412.43L987.52 1413.24L989.89 1414.04L992.27 1414.85L994.64 1415.66L997.01 1416.47L999.39 1417.28L1001.76 1418.09L1004.13 1418.91L1006.5 1419.72L1008.87 1420.54L1011.24 1421.36L1013.62 1422.18L1015.99 1423L1018.36 1423.82L1020.73 1424.64L1023.09 1425.47L1025.46 1426.29L1027.83 1427.12L1030.2 1427.95L1032.57 1428.78L1034.94 1429.61L1037.3 1430.45L1039.67 1431.28L1042.03 1432.12L1044.4 1432.96L1046.76 1433.8L1049.13 1434.64L1051.49 1435.48L1053.85 1436.33L1056.22 1437.18L1058.58 1438.03L1060.94 1438.88L1063.3 1439.73L1065.66 1440.58L1068.02 1441.44L1070.37 1442.3L1072.73 1443.16L1075.09 1444.02L1077.44 1444.89L1079.8 1445.76L1082.15 1446.62L1084.51 1447.5L1086.86 1448.37L1089.21 1449.25L1091.56 1450.12L1093.91 1451L1096.26 1451.89L1098.61 1452.77L1100.95 1453.66L1103.3 1454.55L1105.64 1455.44L1107.99 1456.33L1110.33 1457.23L1112.67 1458.13L1115.01 1459.03L1117.35 1459.93L1119.69 1460.84L1122.03 1461.75L1124.36 1462.66L1126.7 1463.58L1129.03 1464.5L1131.36 1465.42L1133.69 1466.34L1136.02 1467.26L1138.35 1468.19L1140.68 1469.12L1143 1470.06L1145.33 1471L1147.65 1471.94L1149.97 1472.88L1152.29 1473.82L1154.61 1474.77L1156.93 1475.72L1159.25 1476.68L1161.56 1477.64L1163.87 1478.6L1166.18 1479.56L1168.49 1480.53L1170.8 1481.5L1173.11 1482.48L1175.42 1483.45L1177.72 1484.43L1180.02 1485.42L1182.32 1486.4L1184.62 1487.4L1186.92 1488.39L1189.21 1489.39L1191.51 1490.39L1193.8 1491.39L1196.09 1492.4L1198.38 1493.41L1200.66 1494.43L1202.95 1495.45L1205.23 1496.47L1207.51 1497.49L1209.79 1498.52L1212.07 1499.56L1214.35 1500.59L1216.62 1501.64L1218.89 1502.68L1221.16 1503.73L1223.43 1504.78L1225.7 1505.84L1227.96 1506.9L1230.22 1507.96L1232.48 1509.03L1234.74 1510.1L1236.99 1511.18L1239.25 1512.26L1241.5 1513.34L1243.75 1514.43L1246 1515.52L1248.24 1516.62L1250.48 1517.72L1252.72 1518.83L1254.96 1519.94L1257.2 1521.05L1259.43 1522.17L1261.66 1523.29L1263.89 1524.42L1266.12 1525.55L1268.34 1526.69L1270.57 1527.83L1272.78 1528.97L1275 1530.12L1277.22 1531.27L1279.43 1532.43L1281.64 1533.6L1283.85 1534.76L1286.05 1535.94L1288.25 1537.11L1290.45 1538.3L1292.65 1539.48L1294.85 1540.67L1297.04 1541.87L1299.23 1543.07L1301.42 1544.28L1303.6 1545.49L1305.78 1546.7L1307.96 1547.92L1310.14 1549.15L1312.31 1550.38L1314.48 1551.62L1316.65 1552.86L1318.81 1554.1L1320.98 1555.35L1323.14 1556.61L1325.29 1557.87L1327.45 1559.14L1329.6 1560.41L1331.75 1561.69L1333.89 1562.97L1336.03 1564.26L1338.17 1565.55L1340.31 1566.85L1342.44 1568.15L1344.57 1569.46L1346.7 1570.78L1348.83 1572.1L1350.95 1573.42L1353.07 1574.75L1355.18 1576.09L1357.29 1577.43L1359.4 1578.78L1361.51 1580.14L1363.61 1581.5L1365.71 1582.86L1367.81 1584.23L1369.9 1585.61L1371.99 1586.99L1374.08 1588.38L1376.16 1589.78L1378.24 1591.18L1380.31 1592.58L1382.38 1594L1384.45 1595.42L1386.51 1596.84L1388.57 1598.27L1390.63 1599.71L1392.68 1601.15L1394.72 1602.6L1396.76 1604.06L1398.8 1605.52L1400.83 1606.99L1402.86 1608.47L1404.88 1609.95L1406.89 1611.44L1408.9 1612.93L1410.91 1614.44L1412.91 1615.95L1414.91 1617.46L1416.9 1618.98L1418.88 1620.51L1420.86 1622.05L1422.83 1623.59L1424.8 1625.14L1426.76 1626.7L1428.71 1628.27L1430.66 1629.84L1432.6 1631.42L1434.54 1633L1436.47 1634.59L1438.39 1636.19L1440.31 1637.8L1442.21 1639.42L1444.12 1641.04L1446.01 1642.67L1447.9 1644.31L1449.78 1645.95L1451.65 1647.6L1453.52 1649.26L1455.38 1650.93L1457.23 1652.61L1459.07 1654.29L1460.91 1655.98L1462.74 1657.68L1464.56 1659.39L1466.37 1661.1L1468.17 1662.82L1469.97 1664.55L1471.75 1666.29L1473.53 1668.04L1475.3 1669.79L1477.07 1671.56L1478.82 1673.33L1480.56 1675.11L1482.3 1676.9L1484.02 1678.69L1485.74 1680.5L1487.45 1682.31L1489.15 1684.13L1490.84 1685.96L1492.52 1687.8L1494.19 1689.65L1495.85 1691.5L1497.5 1693.37L1499.14 1695.24L1500.77 1697.12L1502.39 1699.02L1504 1700.92L1505.6 1702.82L1507.19 1704.74L1508.77 1706.67L1510.34 1708.6L1511.9 1710.55L1513.45 1712.5L1514.99 1714.47L1516.51 1716.44L1518.03 1718.42L1519.53 1720.41L1521.02 1722.41L1522.51 1724.42L1523.98 1726.44L1525.43 1728.47L1526.88 1730.51L1528.32 1732.56L1529.74 1734.61L1531.16 1736.68L1532.56 1738.75L1533.95 1740.83L1535.34 1742.92L1536.71 1745.02L1538.08 1747.12L1539.44 1749.23L1540.79 1751.35L1542.14 1753.47L1543.48 1755.6L1544.81 1757.73L1546.13 1759.87L1547.46 1762.01L1548.77 1764.15L1550.08 1766.3L1551.39 1768.45L1552.69 1770.61L1553.99 1772.77L1555.29 1774.93L1556.58 1777.09L1557.88 1779.25L1559.17 1781.42L1560.46 1783.58L1561.75 1785.75L1563.03 1787.92L1564.32 1790.08L1565.61 1792.25L1566.9 1794.41L1568.19 1796.58L1569.49 1798.74L1570.78 1800.9L1572.08 1803.06L1573.38 1805.21L1574.69 1807.36L1576 1809.51L1577.31 1811.65L1578.63 1813.79L1579.95 1815.93L1581.28 1818.06L1582.62 1820.19L1583.96 1822.31L1585.31 1824.42L1586.67 1826.53L1588.03 1828.63L1589.4 1830.72L1590.78 1832.81L1592.17 1834.89L1593.57 1836.96L1594.98 1839.02L1596.4 1841.08L1597.83 1843.12L1599.28 1845.16L1600.73 1847.18L1602.19 1849.2L1603.67 1851.2L1605.16 1853.2L1606.67 1855.18L1608.19 1857.15L1609.72 1859.11L1611.27 1861.06L1612.83 1862.99L1614.41 1864.91L1616 1866.82L1617.61 1868.71L1619.24 1870.59L1620.88 1872.46L1622.55 1874.31" fill="none" stroke="#00cc88" stroke-width="5.2" stroke-linejoin="round" stroke-dasharray="21.3 16.7 0 16.7" stroke-linecap="round" stroke-dashoffset="-1"/>
<path d="M322.25 33.5H1624.19V1004.5H322.25Z" fill="none" stroke="#000" stroke-width="5" stroke-linejoin="miter"/>
<path d="M303.88 1004.5H322.25M312.64 865.77H322.25M1614.5 865.77H1624.19M303.88 727.05H322.25M1605.43 727.05H1624.19M312.64 588.33H322.25M1614.5 588.33H1624.19M303.88 449.6H322.25M1605.43 449.6H1624.19M312.64 310.88H322.25M1614.5 310.88H1624.19M303.88 172.15H322.25M1605.43 172.15H1624.19M312.64 33.5H322.25M322.25 1004.5V1022.7M513.62 1004.5V1013.7M513.62 33.5V42.8M705 1004.5V1022.7M705 33.5V51.9M896.38 1004.5V1013.7M896.38 33.5V42.8M1087.75 1004.5V1022.7M1087.75 33.5V51.9M1279.13 1004.5V1013.7M1279.13 33.5V42.8M1470.5 1004.5V1022.7M1470.5 33.5V51.9" fill="none" stroke="#000" stroke-width="5" stroke-linecap="butt"/>
<path d="M320.7 1136.5H1622.56V2106.4H320.7Z" fill="none" stroke="#000" stroke-width="5" stroke-linejoin="miter"/>
<path d="M302.17 2106.4H320.7M310.93 1967.85H320.7M1612.79 1967.85H1622.56M302.17 1829.3H320.7M1603.72 1829.3H1622.56M310.93 1690.75H320.7M1612.79 1690.75H1622.56M302.17 1552.2H320.7M1603.72 1552.2H1622.56M310.93 1413.65H320.7M1612.79 1413.65H1622.56M302.17 1275.1H320.7M1603.72 1275.1H1622.56M310.93 1136.5H320.7M320.7 2106.4V2124.6M537.67 2106.4V2115.6M537.67 1136.5V1145.8M754.65 2106.4V2124.6M754.65 1136.5V1154.9M971.63 2106.4V2115.6M971.63 1136.5V1145.8M1188.6 2106.4V2124.6M1188.6 1136.5V1154.9M1405.58 2106.4V2115.6M1405.58 1136.5V1145.8M1622.56 2106.4V2124.6" fill="none" stroke="#000" stroke-width="5" stroke-linecap="butt"/>
</g>
<text transform="scale(1.25,1)" x="225.1 253.83 270.27" y="188.15" font-size="55.2">1.5</text>
<text transform="scale(1.25,1)" x="225.1 253.83 270.27" y="465.6" font-size="55.2">1.0</text>
<text transform="scale(1.25,1)" x="224.23 253.91 270.27" y="743.05" font-size="55.2">0.5</text>
<text transform="scale(1.25,1)" x="224.23 253.91 270.27" y="1020.5" font-size="55.2">0.0</text>
<text transform="scale(1.25,1)" x="223.5 252.23 268.67" y="1291.6" font-size="55.2">1.5</text>
<text transform="scale(1.25,1)" x="223.5 252.23 268.67" y="1568.7" font-size="55.2">1.0</text>
<text transform="scale(1.25,1)" x="222.63 252.31 268.67" y="1845.8" font-size="55.2">0.5</text>
<text transform="scale(1.25,1)" x="222.63 252.31 268.67" y="2122.9" font-size="55.2">0.0</text>
<text transform="scale(1.25,1)" x="294.11 323.79 340.15" y="1077.2" font-size="55.2">0.0</text>
<text transform="scale(1.25,1)" x="689.11 718.79 735.15" y="1077.2" font-size="55.2">0.5</text>
<text transform="scale(1.25,1)" x="1085.74 1114.47 1130.91" y="1077.2" font-size="55.2">1.0</text>
<text transform="scale(1.25,1)" x="1480.74 1509.47 1525.91" y="1077.2" font-size="55.2">1.5</text>
<text transform="scale(1.25,1)" x="292.51 322.19 338.55" y="2179.2" font-size="55.2">0.0</text>
<text transform="scale(1.25,1)" x="740.35 770.03 786.39" y="2179.2" font-size="55.2">0.5</text>
<text transform="scale(1.25,1)" x="1189.58 1218.31 1234.75" y="2179.2" font-size="55.2">1.0</text>
<text transform="scale(1.25,1)" x="1637.42 1666.15 1682.59" y="2179.2" font-size="55.2">1.5</text>
<text transform="matrix(0.71402 0 0 0.61100 1945.82 118.20)" font-size="100">(</text>
<text transform="matrix(0.75146 0 0 0.61100 1971.71 118.20)" font-size="100">a</text>
<text transform="matrix(0.70280 0 0 0.61100 2021.95 118.20)" font-size="100">)</text>
<text transform="matrix(0.72897 0 0 0.60200 1942.23 1225.30)" font-size="100">(</text>
<text transform="matrix(0.82667 0 0 0.60200 1967.43 1225.30)" font-size="100">b</text>
<text transform="matrix(0.70654 0 0 0.60200 2017.85 1225.30)" font-size="100">)</text>
<text transform="matrix(1.20478 0 0 1.00300 7.29 1096.70)" font-size="100" font-style="italic">S</text>
<text transform="matrix(1.35329 0 0 0.95100 86.74 1095.75)" font-size="100" font-style="italic">/</text>
<text transform="matrix(1.20478 0 0 1.00300 126.79 1096.70)" font-size="100" font-style="italic">S</text>
<text transform="matrix(0.84729 0 0 0.68300 206.20 1123.90)" font-size="100" font-style="italic">0</text>
<text transform="matrix(1.36857 0 0 0.95000 1202.11 2331.50)" font-size="100" font-style="italic">r</text>
<text transform="matrix(0.72703 0 0 0.65300 1262.63 2291.15)" font-size="100" font-style="italic">(</text>
<text transform="matrix(0.85333 0 0 0.65300 1288.33 2291.15)" font-size="100" font-style="italic">e</text>
<text transform="matrix(0.90827 0 0 0.65300 1336.05 2291.15)" font-size="100" font-style="italic">f</text>
<text transform="matrix(0.91128 0 0 0.65300 1359.94 2291.15)" font-size="100" font-style="italic">f</text>
<text transform="matrix(0.74865 0 0 0.65300 1385.61 2291.15)" font-size="100" font-style="italic">)</text>
</svg></body></html>
